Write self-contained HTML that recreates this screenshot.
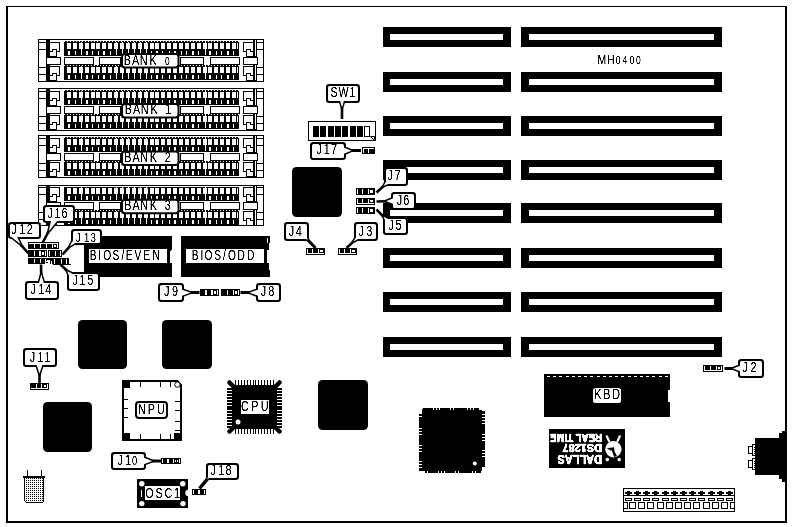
<!DOCTYPE html>
<html><head><meta charset="utf-8"><title>MH0400</title>
<style>
html,body{margin:0;padding:0;background:#fff;}
body{width:792px;height:527px;overflow:hidden;}
svg{display:block;}
text{font-family:"Liberation Sans",sans-serif;}
</style></head>
<body>
<svg width="792" height="527" viewBox="0 0 792 527" shape-rendering="crispEdges">
<defs><filter id="th" filterUnits="userSpaceOnUse" x="0" y="0" width="792" height="527" color-interpolation-filters="sRGB"><feComponentTransfer><feFuncA type="linear" slope="2.2" intercept="-0.45"/></feComponentTransfer></filter></defs>
<rect x="0" y="0" width="792" height="527" fill="#fff"/>
<rect x="6" y="6" width="781" height="1" fill="#000"/>
<rect x="6" y="6" width="2" height="517" fill="#000"/>
<rect x="785" y="6" width="2" height="517" fill="#000"/>
<rect x="6" y="521" width="781" height="2" fill="#000"/>
<rect x="383" y="27" width="128" height="20" fill="#000"/>
<rect x="390" y="34" width="113" height="6" fill="#fff"/>
<rect x="521" y="27" width="201" height="20" fill="#000"/>
<rect x="529" y="34" width="185" height="6" fill="#fff"/>
<rect x="383" y="72" width="128" height="20" fill="#000"/>
<rect x="390" y="79" width="113" height="6" fill="#fff"/>
<rect x="521" y="72" width="201" height="20" fill="#000"/>
<rect x="529" y="79" width="185" height="6" fill="#fff"/>
<rect x="383" y="116" width="128" height="20" fill="#000"/>
<rect x="390" y="123" width="113" height="6" fill="#fff"/>
<rect x="521" y="116" width="201" height="20" fill="#000"/>
<rect x="529" y="123" width="185" height="6" fill="#fff"/>
<rect x="383" y="160" width="128" height="20" fill="#000"/>
<rect x="390" y="167" width="113" height="6" fill="#fff"/>
<rect x="521" y="160" width="201" height="20" fill="#000"/>
<rect x="529" y="167" width="185" height="6" fill="#fff"/>
<rect x="383" y="203" width="128" height="20" fill="#000"/>
<rect x="390" y="210" width="113" height="6" fill="#fff"/>
<rect x="521" y="203" width="201" height="20" fill="#000"/>
<rect x="529" y="210" width="185" height="6" fill="#fff"/>
<rect x="383" y="248" width="128" height="20" fill="#000"/>
<rect x="390" y="255" width="113" height="6" fill="#fff"/>
<rect x="521" y="248" width="201" height="20" fill="#000"/>
<rect x="529" y="255" width="185" height="6" fill="#fff"/>
<rect x="383" y="292" width="128" height="20" fill="#000"/>
<rect x="390" y="299" width="113" height="6" fill="#fff"/>
<rect x="521" y="292" width="201" height="20" fill="#000"/>
<rect x="529" y="299" width="185" height="6" fill="#fff"/>
<rect x="383" y="337" width="128" height="20" fill="#000"/>
<rect x="390" y="344" width="113" height="6" fill="#fff"/>
<rect x="521" y="337" width="201" height="20" fill="#000"/>
<rect x="529" y="344" width="185" height="6" fill="#fff"/>
<rect x="38" y="39" width="226" height="1" fill="#000"/>
<rect x="38" y="81" width="226" height="1" fill="#000"/>
<rect x="38" y="39" width="1" height="43" fill="#000"/>
<rect x="263" y="39" width="1" height="43" fill="#000"/>
<rect x="39" y="42" width="7" height="1" fill="#000"/>
<rect x="257" y="42" width="6" height="1" fill="#000"/>
<rect x="39" y="49" width="7" height="1" fill="#000"/>
<rect x="257" y="49" width="6" height="1" fill="#000"/>
<rect x="39" y="67" width="7" height="1" fill="#000"/>
<rect x="257" y="67" width="6" height="1" fill="#000"/>
<rect x="39" y="74" width="7" height="1" fill="#000"/>
<rect x="257" y="74" width="6" height="1" fill="#000"/>
<rect x="46" y="39" width="4" height="18" fill="#000"/>
<rect x="46" y="65" width="4" height="16" fill="#000"/>
<rect x="253" y="39" width="2" height="18" fill="#000"/>
<rect x="253" y="65" width="2" height="16" fill="#000"/>
<rect x="256" y="39" width="1" height="42" fill="#000"/>
<rect x="46" y="57" width="15" height="8" fill="#000"/>
<rect x="47" y="58" width="13" height="6" fill="#fff"/>
<rect x="243" y="57" width="15" height="8" fill="#000"/>
<rect x="244" y="58" width="13" height="6" fill="#fff"/>
<rect x="50" y="42" width="10" height="1" fill="#000"/>
<rect x="59" y="42" width="1" height="10" fill="#000"/>
<rect x="52" y="49" width="5" height="1" fill="#000"/>
<rect x="52" y="49" width="1" height="3" fill="#000"/>
<rect x="56" y="49" width="1" height="8" fill="#000"/>
<rect x="50" y="51" width="3" height="1" fill="#000"/>
<rect x="57" y="51" width="3" height="1" fill="#000"/>
<rect x="46" y="56" width="11" height="1" fill="#000"/>
<rect x="50" y="66" width="10" height="1" fill="#000"/>
<rect x="59" y="66" width="1" height="10" fill="#000"/>
<rect x="52" y="73" width="5" height="1" fill="#000"/>
<rect x="52" y="73" width="1" height="3" fill="#000"/>
<rect x="56" y="73" width="1" height="8" fill="#000"/>
<rect x="50" y="75" width="3" height="1" fill="#000"/>
<rect x="57" y="75" width="3" height="1" fill="#000"/>
<rect x="46" y="80" width="11" height="1" fill="#000"/>
<rect x="243" y="42" width="10" height="1" fill="#000"/>
<rect x="243" y="42" width="1" height="10" fill="#000"/>
<rect x="246" y="49" width="5" height="1" fill="#000"/>
<rect x="250" y="49" width="1" height="3" fill="#000"/>
<rect x="246" y="49" width="1" height="8" fill="#000"/>
<rect x="250" y="51" width="3" height="1" fill="#000"/>
<rect x="243" y="51" width="3" height="1" fill="#000"/>
<rect x="246" y="56" width="11" height="1" fill="#000"/>
<rect x="243" y="66" width="10" height="1" fill="#000"/>
<rect x="243" y="66" width="1" height="10" fill="#000"/>
<rect x="246" y="73" width="5" height="1" fill="#000"/>
<rect x="250" y="73" width="1" height="3" fill="#000"/>
<rect x="246" y="73" width="1" height="8" fill="#000"/>
<rect x="250" y="75" width="3" height="1" fill="#000"/>
<rect x="243" y="75" width="3" height="1" fill="#000"/>
<rect x="246" y="80" width="11" height="1" fill="#000"/>
<rect x="64" y="42" width="175" height="14" fill="#000"/>
<rect x="65" y="41" width="2" height="1" fill="#000"/>
<rect x="68" y="41" width="2" height="1" fill="#000"/>
<rect x="71" y="41" width="2" height="1" fill="#000"/>
<rect x="74" y="41" width="2" height="1" fill="#000"/>
<rect x="77" y="41" width="2" height="1" fill="#000"/>
<rect x="80" y="41" width="2" height="1" fill="#000"/>
<rect x="83" y="41" width="2" height="1" fill="#000"/>
<rect x="86" y="41" width="2" height="1" fill="#000"/>
<rect x="89" y="41" width="2" height="1" fill="#000"/>
<rect x="92" y="41" width="2" height="1" fill="#000"/>
<rect x="95" y="41" width="2" height="1" fill="#000"/>
<rect x="98" y="41" width="2" height="1" fill="#000"/>
<rect x="101" y="41" width="2" height="1" fill="#000"/>
<rect x="104" y="41" width="2" height="1" fill="#000"/>
<rect x="107" y="41" width="2" height="1" fill="#000"/>
<rect x="110" y="41" width="2" height="1" fill="#000"/>
<rect x="113" y="41" width="2" height="1" fill="#000"/>
<rect x="116" y="41" width="2" height="1" fill="#000"/>
<rect x="119" y="41" width="2" height="1" fill="#000"/>
<rect x="122" y="41" width="2" height="1" fill="#000"/>
<rect x="125" y="41" width="2" height="1" fill="#000"/>
<rect x="128" y="41" width="2" height="1" fill="#000"/>
<rect x="131" y="41" width="2" height="1" fill="#000"/>
<rect x="134" y="41" width="2" height="1" fill="#000"/>
<rect x="137" y="41" width="2" height="1" fill="#000"/>
<rect x="140" y="41" width="2" height="1" fill="#000"/>
<rect x="143" y="41" width="2" height="1" fill="#000"/>
<rect x="146" y="41" width="2" height="1" fill="#000"/>
<rect x="149" y="41" width="2" height="1" fill="#000"/>
<rect x="152" y="41" width="2" height="1" fill="#000"/>
<rect x="155" y="41" width="2" height="1" fill="#000"/>
<rect x="158" y="41" width="2" height="1" fill="#000"/>
<rect x="161" y="41" width="2" height="1" fill="#000"/>
<rect x="164" y="41" width="2" height="1" fill="#000"/>
<rect x="167" y="41" width="2" height="1" fill="#000"/>
<rect x="170" y="41" width="2" height="1" fill="#000"/>
<rect x="173" y="41" width="2" height="1" fill="#000"/>
<rect x="176" y="41" width="2" height="1" fill="#000"/>
<rect x="179" y="41" width="2" height="1" fill="#000"/>
<rect x="182" y="41" width="2" height="1" fill="#000"/>
<rect x="185" y="41" width="2" height="1" fill="#000"/>
<rect x="188" y="41" width="2" height="1" fill="#000"/>
<rect x="191" y="41" width="2" height="1" fill="#000"/>
<rect x="194" y="41" width="2" height="1" fill="#000"/>
<rect x="197" y="41" width="2" height="1" fill="#000"/>
<rect x="200" y="41" width="2" height="1" fill="#000"/>
<rect x="203" y="41" width="2" height="1" fill="#000"/>
<rect x="206" y="41" width="2" height="1" fill="#000"/>
<rect x="209" y="41" width="2" height="1" fill="#000"/>
<rect x="212" y="41" width="2" height="1" fill="#000"/>
<rect x="215" y="41" width="2" height="1" fill="#000"/>
<rect x="218" y="41" width="2" height="1" fill="#000"/>
<rect x="221" y="41" width="2" height="1" fill="#000"/>
<rect x="224" y="41" width="2" height="1" fill="#000"/>
<rect x="227" y="41" width="2" height="1" fill="#000"/>
<rect x="230" y="41" width="2" height="1" fill="#000"/>
<rect x="233" y="41" width="2" height="1" fill="#000"/>
<rect x="236" y="41" width="2" height="1" fill="#000"/>
<rect x="64" y="66" width="175" height="14" fill="#000"/>
<rect x="65" y="65" width="2" height="1" fill="#000"/>
<rect x="68" y="65" width="2" height="1" fill="#000"/>
<rect x="71" y="65" width="2" height="1" fill="#000"/>
<rect x="74" y="65" width="2" height="1" fill="#000"/>
<rect x="77" y="65" width="2" height="1" fill="#000"/>
<rect x="80" y="65" width="2" height="1" fill="#000"/>
<rect x="83" y="65" width="2" height="1" fill="#000"/>
<rect x="86" y="65" width="2" height="1" fill="#000"/>
<rect x="89" y="65" width="2" height="1" fill="#000"/>
<rect x="92" y="65" width="2" height="1" fill="#000"/>
<rect x="95" y="65" width="2" height="1" fill="#000"/>
<rect x="98" y="65" width="2" height="1" fill="#000"/>
<rect x="101" y="65" width="2" height="1" fill="#000"/>
<rect x="104" y="65" width="2" height="1" fill="#000"/>
<rect x="107" y="65" width="2" height="1" fill="#000"/>
<rect x="110" y="65" width="2" height="1" fill="#000"/>
<rect x="113" y="65" width="2" height="1" fill="#000"/>
<rect x="116" y="65" width="2" height="1" fill="#000"/>
<rect x="119" y="65" width="2" height="1" fill="#000"/>
<rect x="122" y="65" width="2" height="1" fill="#000"/>
<rect x="125" y="65" width="2" height="1" fill="#000"/>
<rect x="128" y="65" width="2" height="1" fill="#000"/>
<rect x="131" y="65" width="2" height="1" fill="#000"/>
<rect x="134" y="65" width="2" height="1" fill="#000"/>
<rect x="137" y="65" width="2" height="1" fill="#000"/>
<rect x="140" y="65" width="2" height="1" fill="#000"/>
<rect x="143" y="65" width="2" height="1" fill="#000"/>
<rect x="146" y="65" width="2" height="1" fill="#000"/>
<rect x="149" y="65" width="2" height="1" fill="#000"/>
<rect x="152" y="65" width="2" height="1" fill="#000"/>
<rect x="155" y="65" width="2" height="1" fill="#000"/>
<rect x="158" y="65" width="2" height="1" fill="#000"/>
<rect x="161" y="65" width="2" height="1" fill="#000"/>
<rect x="164" y="65" width="2" height="1" fill="#000"/>
<rect x="167" y="65" width="2" height="1" fill="#000"/>
<rect x="170" y="65" width="2" height="1" fill="#000"/>
<rect x="173" y="65" width="2" height="1" fill="#000"/>
<rect x="176" y="65" width="2" height="1" fill="#000"/>
<rect x="179" y="65" width="2" height="1" fill="#000"/>
<rect x="182" y="65" width="2" height="1" fill="#000"/>
<rect x="185" y="65" width="2" height="1" fill="#000"/>
<rect x="188" y="65" width="2" height="1" fill="#000"/>
<rect x="191" y="65" width="2" height="1" fill="#000"/>
<rect x="194" y="65" width="2" height="1" fill="#000"/>
<rect x="197" y="65" width="2" height="1" fill="#000"/>
<rect x="200" y="65" width="2" height="1" fill="#000"/>
<rect x="203" y="65" width="2" height="1" fill="#000"/>
<rect x="206" y="65" width="2" height="1" fill="#000"/>
<rect x="209" y="65" width="2" height="1" fill="#000"/>
<rect x="212" y="65" width="2" height="1" fill="#000"/>
<rect x="215" y="65" width="2" height="1" fill="#000"/>
<rect x="218" y="65" width="2" height="1" fill="#000"/>
<rect x="221" y="65" width="2" height="1" fill="#000"/>
<rect x="224" y="65" width="2" height="1" fill="#000"/>
<rect x="227" y="65" width="2" height="1" fill="#000"/>
<rect x="230" y="65" width="2" height="1" fill="#000"/>
<rect x="233" y="65" width="2" height="1" fill="#000"/>
<rect x="236" y="65" width="2" height="1" fill="#000"/>
<rect x="67" y="43" width="4" height="6" fill="#fff"/>
<rect x="68" y="51" width="2" height="4" fill="#fff"/>
<rect x="67" y="67" width="4" height="6" fill="#fff"/>
<rect x="68" y="75" width="2" height="4" fill="#fff"/>
<rect x="73" y="43" width="4" height="6" fill="#fff"/>
<rect x="75" y="51" width="1" height="4" fill="#fff"/>
<rect x="73" y="67" width="4" height="6" fill="#fff"/>
<rect x="75" y="75" width="1" height="4" fill="#fff"/>
<rect x="79" y="43" width="4" height="6" fill="#fff"/>
<rect x="81" y="42" width="1" height="13" fill="#fff"/>
<rect x="79" y="67" width="4" height="6" fill="#fff"/>
<rect x="81" y="66" width="1" height="13" fill="#fff"/>
<rect x="85" y="43" width="4" height="6" fill="#fff"/>
<rect x="86" y="51" width="2" height="4" fill="#fff"/>
<rect x="85" y="67" width="4" height="6" fill="#fff"/>
<rect x="86" y="75" width="2" height="4" fill="#fff"/>
<rect x="91" y="43" width="4" height="6" fill="#fff"/>
<rect x="92" y="51" width="1" height="4" fill="#fff"/>
<rect x="91" y="67" width="4" height="6" fill="#fff"/>
<rect x="92" y="75" width="1" height="4" fill="#fff"/>
<rect x="96" y="43" width="4" height="6" fill="#fff"/>
<rect x="98" y="51" width="1" height="4" fill="#fff"/>
<rect x="96" y="67" width="4" height="6" fill="#fff"/>
<rect x="98" y="75" width="1" height="4" fill="#fff"/>
<rect x="102" y="43" width="4" height="6" fill="#fff"/>
<rect x="103" y="51" width="2" height="4" fill="#fff"/>
<rect x="102" y="67" width="4" height="6" fill="#fff"/>
<rect x="103" y="75" width="2" height="4" fill="#fff"/>
<rect x="108" y="43" width="4" height="6" fill="#fff"/>
<rect x="110" y="51" width="1" height="4" fill="#fff"/>
<rect x="108" y="67" width="4" height="6" fill="#fff"/>
<rect x="110" y="75" width="1" height="4" fill="#fff"/>
<rect x="114" y="43" width="4" height="6" fill="#fff"/>
<rect x="116" y="42" width="1" height="13" fill="#fff"/>
<rect x="114" y="67" width="4" height="6" fill="#fff"/>
<rect x="116" y="66" width="1" height="13" fill="#fff"/>
<rect x="120" y="43" width="4" height="6" fill="#fff"/>
<rect x="122" y="42" width="1" height="13" fill="#fff"/>
<rect x="120" y="67" width="4" height="6" fill="#fff"/>
<rect x="122" y="66" width="1" height="13" fill="#fff"/>
<rect x="126" y="43" width="4" height="6" fill="#fff"/>
<rect x="128" y="42" width="1" height="13" fill="#fff"/>
<rect x="126" y="67" width="4" height="6" fill="#fff"/>
<rect x="128" y="66" width="1" height="13" fill="#fff"/>
<rect x="132" y="43" width="4" height="6" fill="#fff"/>
<rect x="134" y="42" width="1" height="13" fill="#fff"/>
<rect x="132" y="67" width="4" height="6" fill="#fff"/>
<rect x="134" y="66" width="1" height="13" fill="#fff"/>
<rect x="138" y="43" width="4" height="6" fill="#fff"/>
<rect x="140" y="42" width="1" height="13" fill="#fff"/>
<rect x="138" y="67" width="4" height="6" fill="#fff"/>
<rect x="140" y="66" width="1" height="13" fill="#fff"/>
<rect x="144" y="43" width="4" height="6" fill="#fff"/>
<rect x="146" y="42" width="1" height="13" fill="#fff"/>
<rect x="144" y="67" width="4" height="6" fill="#fff"/>
<rect x="146" y="66" width="1" height="13" fill="#fff"/>
<rect x="150" y="43" width="4" height="6" fill="#fff"/>
<rect x="151" y="51" width="1" height="4" fill="#fff"/>
<rect x="150" y="67" width="4" height="6" fill="#fff"/>
<rect x="151" y="75" width="1" height="4" fill="#fff"/>
<rect x="155" y="43" width="4" height="6" fill="#fff"/>
<rect x="156" y="51" width="2" height="4" fill="#fff"/>
<rect x="155" y="67" width="4" height="6" fill="#fff"/>
<rect x="156" y="75" width="2" height="4" fill="#fff"/>
<rect x="161" y="43" width="4" height="6" fill="#fff"/>
<rect x="162" y="51" width="1" height="4" fill="#fff"/>
<rect x="161" y="67" width="4" height="6" fill="#fff"/>
<rect x="162" y="75" width="1" height="4" fill="#fff"/>
<rect x="167" y="43" width="4" height="6" fill="#fff"/>
<rect x="169" y="51" width="1" height="4" fill="#fff"/>
<rect x="167" y="67" width="4" height="6" fill="#fff"/>
<rect x="169" y="75" width="1" height="4" fill="#fff"/>
<rect x="173" y="43" width="4" height="6" fill="#fff"/>
<rect x="174" y="51" width="2" height="4" fill="#fff"/>
<rect x="173" y="67" width="4" height="6" fill="#fff"/>
<rect x="174" y="75" width="2" height="4" fill="#fff"/>
<rect x="179" y="43" width="4" height="6" fill="#fff"/>
<rect x="181" y="51" width="1" height="4" fill="#fff"/>
<rect x="179" y="67" width="4" height="6" fill="#fff"/>
<rect x="181" y="75" width="1" height="4" fill="#fff"/>
<rect x="185" y="43" width="4" height="6" fill="#fff"/>
<rect x="186" y="51" width="1" height="4" fill="#fff"/>
<rect x="185" y="67" width="4" height="6" fill="#fff"/>
<rect x="186" y="75" width="1" height="4" fill="#fff"/>
<rect x="191" y="43" width="4" height="6" fill="#fff"/>
<rect x="192" y="51" width="2" height="4" fill="#fff"/>
<rect x="191" y="67" width="4" height="6" fill="#fff"/>
<rect x="192" y="75" width="2" height="4" fill="#fff"/>
<rect x="197" y="43" width="4" height="6" fill="#fff"/>
<rect x="198" y="51" width="1" height="4" fill="#fff"/>
<rect x="197" y="67" width="4" height="6" fill="#fff"/>
<rect x="198" y="75" width="1" height="4" fill="#fff"/>
<rect x="203" y="43" width="4" height="6" fill="#fff"/>
<rect x="205" y="42" width="1" height="13" fill="#fff"/>
<rect x="203" y="67" width="4" height="6" fill="#fff"/>
<rect x="205" y="66" width="1" height="13" fill="#fff"/>
<rect x="208" y="43" width="4" height="6" fill="#fff"/>
<rect x="209" y="51" width="2" height="4" fill="#fff"/>
<rect x="208" y="67" width="4" height="6" fill="#fff"/>
<rect x="209" y="75" width="2" height="4" fill="#fff"/>
<rect x="214" y="43" width="4" height="6" fill="#fff"/>
<rect x="216" y="51" width="1" height="4" fill="#fff"/>
<rect x="214" y="67" width="4" height="6" fill="#fff"/>
<rect x="216" y="75" width="1" height="4" fill="#fff"/>
<rect x="220" y="43" width="4" height="6" fill="#fff"/>
<rect x="221" y="51" width="1" height="4" fill="#fff"/>
<rect x="220" y="67" width="4" height="6" fill="#fff"/>
<rect x="221" y="75" width="1" height="4" fill="#fff"/>
<rect x="226" y="43" width="4" height="6" fill="#fff"/>
<rect x="227" y="51" width="2" height="4" fill="#fff"/>
<rect x="226" y="67" width="4" height="6" fill="#fff"/>
<rect x="227" y="75" width="2" height="4" fill="#fff"/>
<rect x="232" y="43" width="4" height="6" fill="#fff"/>
<rect x="233" y="51" width="1" height="4" fill="#fff"/>
<rect x="232" y="67" width="4" height="6" fill="#fff"/>
<rect x="233" y="75" width="1" height="4" fill="#fff"/>
<rect x="237" y="43" width="1" height="6" fill="#fff"/>
<rect x="237" y="67" width="1" height="6" fill="#fff"/>
<rect x="64" y="57" width="30" height="8" fill="#000"/>
<rect x="65" y="58" width="28" height="6" fill="#fff"/>
<rect x="99" y="57" width="22" height="8" fill="#000"/>
<rect x="100" y="58" width="20" height="6" fill="#fff"/>
<rect x="180" y="57" width="24" height="8" fill="#000"/>
<rect x="181" y="58" width="22" height="6" fill="#fff"/>
<rect x="210" y="57" width="30" height="8" fill="#000"/>
<rect x="211" y="58" width="28" height="6" fill="#fff"/>
<rect x="121" y="53" width="58.5" height="15.4" rx="3.5" fill="#000" shape-rendering="geometricPrecision"/>
<rect x="123" y="55" width="54.5" height="11.4" rx="1.8" fill="#fff" shape-rendering="geometricPrecision"/>
<rect x="38" y="88" width="226" height="1" fill="#000"/>
<rect x="38" y="130" width="226" height="1" fill="#000"/>
<rect x="38" y="88" width="1" height="43" fill="#000"/>
<rect x="263" y="88" width="1" height="43" fill="#000"/>
<rect x="39" y="91" width="7" height="1" fill="#000"/>
<rect x="257" y="91" width="6" height="1" fill="#000"/>
<rect x="39" y="98" width="7" height="1" fill="#000"/>
<rect x="257" y="98" width="6" height="1" fill="#000"/>
<rect x="39" y="116" width="7" height="1" fill="#000"/>
<rect x="257" y="116" width="6" height="1" fill="#000"/>
<rect x="39" y="123" width="7" height="1" fill="#000"/>
<rect x="257" y="123" width="6" height="1" fill="#000"/>
<rect x="46" y="88" width="4" height="18" fill="#000"/>
<rect x="46" y="114" width="4" height="16" fill="#000"/>
<rect x="253" y="88" width="2" height="18" fill="#000"/>
<rect x="253" y="114" width="2" height="16" fill="#000"/>
<rect x="256" y="88" width="1" height="42" fill="#000"/>
<rect x="46" y="106" width="15" height="8" fill="#000"/>
<rect x="47" y="107" width="13" height="6" fill="#fff"/>
<rect x="243" y="106" width="15" height="8" fill="#000"/>
<rect x="244" y="107" width="13" height="6" fill="#fff"/>
<rect x="50" y="91" width="10" height="1" fill="#000"/>
<rect x="59" y="91" width="1" height="10" fill="#000"/>
<rect x="52" y="98" width="5" height="1" fill="#000"/>
<rect x="52" y="98" width="1" height="3" fill="#000"/>
<rect x="56" y="98" width="1" height="8" fill="#000"/>
<rect x="50" y="100" width="3" height="1" fill="#000"/>
<rect x="57" y="100" width="3" height="1" fill="#000"/>
<rect x="46" y="105" width="11" height="1" fill="#000"/>
<rect x="50" y="115" width="10" height="1" fill="#000"/>
<rect x="59" y="115" width="1" height="10" fill="#000"/>
<rect x="52" y="122" width="5" height="1" fill="#000"/>
<rect x="52" y="122" width="1" height="3" fill="#000"/>
<rect x="56" y="122" width="1" height="8" fill="#000"/>
<rect x="50" y="124" width="3" height="1" fill="#000"/>
<rect x="57" y="124" width="3" height="1" fill="#000"/>
<rect x="46" y="129" width="11" height="1" fill="#000"/>
<rect x="243" y="91" width="10" height="1" fill="#000"/>
<rect x="243" y="91" width="1" height="10" fill="#000"/>
<rect x="246" y="98" width="5" height="1" fill="#000"/>
<rect x="250" y="98" width="1" height="3" fill="#000"/>
<rect x="246" y="98" width="1" height="8" fill="#000"/>
<rect x="250" y="100" width="3" height="1" fill="#000"/>
<rect x="243" y="100" width="3" height="1" fill="#000"/>
<rect x="246" y="105" width="11" height="1" fill="#000"/>
<rect x="243" y="115" width="10" height="1" fill="#000"/>
<rect x="243" y="115" width="1" height="10" fill="#000"/>
<rect x="246" y="122" width="5" height="1" fill="#000"/>
<rect x="250" y="122" width="1" height="3" fill="#000"/>
<rect x="246" y="122" width="1" height="8" fill="#000"/>
<rect x="250" y="124" width="3" height="1" fill="#000"/>
<rect x="243" y="124" width="3" height="1" fill="#000"/>
<rect x="246" y="129" width="11" height="1" fill="#000"/>
<rect x="64" y="91" width="175" height="14" fill="#000"/>
<rect x="65" y="90" width="2" height="1" fill="#000"/>
<rect x="68" y="90" width="2" height="1" fill="#000"/>
<rect x="71" y="90" width="2" height="1" fill="#000"/>
<rect x="74" y="90" width="2" height="1" fill="#000"/>
<rect x="77" y="90" width="2" height="1" fill="#000"/>
<rect x="80" y="90" width="2" height="1" fill="#000"/>
<rect x="83" y="90" width="2" height="1" fill="#000"/>
<rect x="86" y="90" width="2" height="1" fill="#000"/>
<rect x="89" y="90" width="2" height="1" fill="#000"/>
<rect x="92" y="90" width="2" height="1" fill="#000"/>
<rect x="95" y="90" width="2" height="1" fill="#000"/>
<rect x="98" y="90" width="2" height="1" fill="#000"/>
<rect x="101" y="90" width="2" height="1" fill="#000"/>
<rect x="104" y="90" width="2" height="1" fill="#000"/>
<rect x="107" y="90" width="2" height="1" fill="#000"/>
<rect x="110" y="90" width="2" height="1" fill="#000"/>
<rect x="113" y="90" width="2" height="1" fill="#000"/>
<rect x="116" y="90" width="2" height="1" fill="#000"/>
<rect x="119" y="90" width="2" height="1" fill="#000"/>
<rect x="122" y="90" width="2" height="1" fill="#000"/>
<rect x="125" y="90" width="2" height="1" fill="#000"/>
<rect x="128" y="90" width="2" height="1" fill="#000"/>
<rect x="131" y="90" width="2" height="1" fill="#000"/>
<rect x="134" y="90" width="2" height="1" fill="#000"/>
<rect x="137" y="90" width="2" height="1" fill="#000"/>
<rect x="140" y="90" width="2" height="1" fill="#000"/>
<rect x="143" y="90" width="2" height="1" fill="#000"/>
<rect x="146" y="90" width="2" height="1" fill="#000"/>
<rect x="149" y="90" width="2" height="1" fill="#000"/>
<rect x="152" y="90" width="2" height="1" fill="#000"/>
<rect x="155" y="90" width="2" height="1" fill="#000"/>
<rect x="158" y="90" width="2" height="1" fill="#000"/>
<rect x="161" y="90" width="2" height="1" fill="#000"/>
<rect x="164" y="90" width="2" height="1" fill="#000"/>
<rect x="167" y="90" width="2" height="1" fill="#000"/>
<rect x="170" y="90" width="2" height="1" fill="#000"/>
<rect x="173" y="90" width="2" height="1" fill="#000"/>
<rect x="176" y="90" width="2" height="1" fill="#000"/>
<rect x="179" y="90" width="2" height="1" fill="#000"/>
<rect x="182" y="90" width="2" height="1" fill="#000"/>
<rect x="185" y="90" width="2" height="1" fill="#000"/>
<rect x="188" y="90" width="2" height="1" fill="#000"/>
<rect x="191" y="90" width="2" height="1" fill="#000"/>
<rect x="194" y="90" width="2" height="1" fill="#000"/>
<rect x="197" y="90" width="2" height="1" fill="#000"/>
<rect x="200" y="90" width="2" height="1" fill="#000"/>
<rect x="203" y="90" width="2" height="1" fill="#000"/>
<rect x="206" y="90" width="2" height="1" fill="#000"/>
<rect x="209" y="90" width="2" height="1" fill="#000"/>
<rect x="212" y="90" width="2" height="1" fill="#000"/>
<rect x="215" y="90" width="2" height="1" fill="#000"/>
<rect x="218" y="90" width="2" height="1" fill="#000"/>
<rect x="221" y="90" width="2" height="1" fill="#000"/>
<rect x="224" y="90" width="2" height="1" fill="#000"/>
<rect x="227" y="90" width="2" height="1" fill="#000"/>
<rect x="230" y="90" width="2" height="1" fill="#000"/>
<rect x="233" y="90" width="2" height="1" fill="#000"/>
<rect x="236" y="90" width="2" height="1" fill="#000"/>
<rect x="64" y="115" width="175" height="14" fill="#000"/>
<rect x="65" y="114" width="2" height="1" fill="#000"/>
<rect x="68" y="114" width="2" height="1" fill="#000"/>
<rect x="71" y="114" width="2" height="1" fill="#000"/>
<rect x="74" y="114" width="2" height="1" fill="#000"/>
<rect x="77" y="114" width="2" height="1" fill="#000"/>
<rect x="80" y="114" width="2" height="1" fill="#000"/>
<rect x="83" y="114" width="2" height="1" fill="#000"/>
<rect x="86" y="114" width="2" height="1" fill="#000"/>
<rect x="89" y="114" width="2" height="1" fill="#000"/>
<rect x="92" y="114" width="2" height="1" fill="#000"/>
<rect x="95" y="114" width="2" height="1" fill="#000"/>
<rect x="98" y="114" width="2" height="1" fill="#000"/>
<rect x="101" y="114" width="2" height="1" fill="#000"/>
<rect x="104" y="114" width="2" height="1" fill="#000"/>
<rect x="107" y="114" width="2" height="1" fill="#000"/>
<rect x="110" y="114" width="2" height="1" fill="#000"/>
<rect x="113" y="114" width="2" height="1" fill="#000"/>
<rect x="116" y="114" width="2" height="1" fill="#000"/>
<rect x="119" y="114" width="2" height="1" fill="#000"/>
<rect x="122" y="114" width="2" height="1" fill="#000"/>
<rect x="125" y="114" width="2" height="1" fill="#000"/>
<rect x="128" y="114" width="2" height="1" fill="#000"/>
<rect x="131" y="114" width="2" height="1" fill="#000"/>
<rect x="134" y="114" width="2" height="1" fill="#000"/>
<rect x="137" y="114" width="2" height="1" fill="#000"/>
<rect x="140" y="114" width="2" height="1" fill="#000"/>
<rect x="143" y="114" width="2" height="1" fill="#000"/>
<rect x="146" y="114" width="2" height="1" fill="#000"/>
<rect x="149" y="114" width="2" height="1" fill="#000"/>
<rect x="152" y="114" width="2" height="1" fill="#000"/>
<rect x="155" y="114" width="2" height="1" fill="#000"/>
<rect x="158" y="114" width="2" height="1" fill="#000"/>
<rect x="161" y="114" width="2" height="1" fill="#000"/>
<rect x="164" y="114" width="2" height="1" fill="#000"/>
<rect x="167" y="114" width="2" height="1" fill="#000"/>
<rect x="170" y="114" width="2" height="1" fill="#000"/>
<rect x="173" y="114" width="2" height="1" fill="#000"/>
<rect x="176" y="114" width="2" height="1" fill="#000"/>
<rect x="179" y="114" width="2" height="1" fill="#000"/>
<rect x="182" y="114" width="2" height="1" fill="#000"/>
<rect x="185" y="114" width="2" height="1" fill="#000"/>
<rect x="188" y="114" width="2" height="1" fill="#000"/>
<rect x="191" y="114" width="2" height="1" fill="#000"/>
<rect x="194" y="114" width="2" height="1" fill="#000"/>
<rect x="197" y="114" width="2" height="1" fill="#000"/>
<rect x="200" y="114" width="2" height="1" fill="#000"/>
<rect x="203" y="114" width="2" height="1" fill="#000"/>
<rect x="206" y="114" width="2" height="1" fill="#000"/>
<rect x="209" y="114" width="2" height="1" fill="#000"/>
<rect x="212" y="114" width="2" height="1" fill="#000"/>
<rect x="215" y="114" width="2" height="1" fill="#000"/>
<rect x="218" y="114" width="2" height="1" fill="#000"/>
<rect x="221" y="114" width="2" height="1" fill="#000"/>
<rect x="224" y="114" width="2" height="1" fill="#000"/>
<rect x="227" y="114" width="2" height="1" fill="#000"/>
<rect x="230" y="114" width="2" height="1" fill="#000"/>
<rect x="233" y="114" width="2" height="1" fill="#000"/>
<rect x="236" y="114" width="2" height="1" fill="#000"/>
<rect x="67" y="92" width="4" height="6" fill="#fff"/>
<rect x="68" y="100" width="2" height="4" fill="#fff"/>
<rect x="67" y="116" width="4" height="6" fill="#fff"/>
<rect x="68" y="124" width="2" height="4" fill="#fff"/>
<rect x="73" y="92" width="4" height="6" fill="#fff"/>
<rect x="75" y="100" width="1" height="4" fill="#fff"/>
<rect x="73" y="116" width="4" height="6" fill="#fff"/>
<rect x="75" y="124" width="1" height="4" fill="#fff"/>
<rect x="79" y="92" width="4" height="6" fill="#fff"/>
<rect x="81" y="91" width="1" height="13" fill="#fff"/>
<rect x="79" y="116" width="4" height="6" fill="#fff"/>
<rect x="81" y="115" width="1" height="13" fill="#fff"/>
<rect x="85" y="92" width="4" height="6" fill="#fff"/>
<rect x="86" y="100" width="2" height="4" fill="#fff"/>
<rect x="85" y="116" width="4" height="6" fill="#fff"/>
<rect x="86" y="124" width="2" height="4" fill="#fff"/>
<rect x="91" y="92" width="4" height="6" fill="#fff"/>
<rect x="92" y="100" width="1" height="4" fill="#fff"/>
<rect x="91" y="116" width="4" height="6" fill="#fff"/>
<rect x="92" y="124" width="1" height="4" fill="#fff"/>
<rect x="96" y="92" width="4" height="6" fill="#fff"/>
<rect x="98" y="100" width="1" height="4" fill="#fff"/>
<rect x="96" y="116" width="4" height="6" fill="#fff"/>
<rect x="98" y="124" width="1" height="4" fill="#fff"/>
<rect x="102" y="92" width="4" height="6" fill="#fff"/>
<rect x="103" y="100" width="2" height="4" fill="#fff"/>
<rect x="102" y="116" width="4" height="6" fill="#fff"/>
<rect x="103" y="124" width="2" height="4" fill="#fff"/>
<rect x="108" y="92" width="4" height="6" fill="#fff"/>
<rect x="110" y="100" width="1" height="4" fill="#fff"/>
<rect x="108" y="116" width="4" height="6" fill="#fff"/>
<rect x="110" y="124" width="1" height="4" fill="#fff"/>
<rect x="114" y="92" width="4" height="6" fill="#fff"/>
<rect x="116" y="91" width="1" height="13" fill="#fff"/>
<rect x="114" y="116" width="4" height="6" fill="#fff"/>
<rect x="116" y="115" width="1" height="13" fill="#fff"/>
<rect x="120" y="92" width="4" height="6" fill="#fff"/>
<rect x="122" y="91" width="1" height="13" fill="#fff"/>
<rect x="120" y="116" width="4" height="6" fill="#fff"/>
<rect x="122" y="115" width="1" height="13" fill="#fff"/>
<rect x="126" y="92" width="4" height="6" fill="#fff"/>
<rect x="128" y="91" width="1" height="13" fill="#fff"/>
<rect x="126" y="116" width="4" height="6" fill="#fff"/>
<rect x="128" y="115" width="1" height="13" fill="#fff"/>
<rect x="132" y="92" width="4" height="6" fill="#fff"/>
<rect x="134" y="91" width="1" height="13" fill="#fff"/>
<rect x="132" y="116" width="4" height="6" fill="#fff"/>
<rect x="134" y="115" width="1" height="13" fill="#fff"/>
<rect x="138" y="92" width="4" height="6" fill="#fff"/>
<rect x="140" y="91" width="1" height="13" fill="#fff"/>
<rect x="138" y="116" width="4" height="6" fill="#fff"/>
<rect x="140" y="115" width="1" height="13" fill="#fff"/>
<rect x="144" y="92" width="4" height="6" fill="#fff"/>
<rect x="146" y="91" width="1" height="13" fill="#fff"/>
<rect x="144" y="116" width="4" height="6" fill="#fff"/>
<rect x="146" y="115" width="1" height="13" fill="#fff"/>
<rect x="150" y="92" width="4" height="6" fill="#fff"/>
<rect x="151" y="100" width="1" height="4" fill="#fff"/>
<rect x="150" y="116" width="4" height="6" fill="#fff"/>
<rect x="151" y="124" width="1" height="4" fill="#fff"/>
<rect x="155" y="92" width="4" height="6" fill="#fff"/>
<rect x="156" y="100" width="2" height="4" fill="#fff"/>
<rect x="155" y="116" width="4" height="6" fill="#fff"/>
<rect x="156" y="124" width="2" height="4" fill="#fff"/>
<rect x="161" y="92" width="4" height="6" fill="#fff"/>
<rect x="162" y="100" width="1" height="4" fill="#fff"/>
<rect x="161" y="116" width="4" height="6" fill="#fff"/>
<rect x="162" y="124" width="1" height="4" fill="#fff"/>
<rect x="167" y="92" width="4" height="6" fill="#fff"/>
<rect x="169" y="100" width="1" height="4" fill="#fff"/>
<rect x="167" y="116" width="4" height="6" fill="#fff"/>
<rect x="169" y="124" width="1" height="4" fill="#fff"/>
<rect x="173" y="92" width="4" height="6" fill="#fff"/>
<rect x="174" y="100" width="2" height="4" fill="#fff"/>
<rect x="173" y="116" width="4" height="6" fill="#fff"/>
<rect x="174" y="124" width="2" height="4" fill="#fff"/>
<rect x="179" y="92" width="4" height="6" fill="#fff"/>
<rect x="181" y="100" width="1" height="4" fill="#fff"/>
<rect x="179" y="116" width="4" height="6" fill="#fff"/>
<rect x="181" y="124" width="1" height="4" fill="#fff"/>
<rect x="185" y="92" width="4" height="6" fill="#fff"/>
<rect x="186" y="100" width="1" height="4" fill="#fff"/>
<rect x="185" y="116" width="4" height="6" fill="#fff"/>
<rect x="186" y="124" width="1" height="4" fill="#fff"/>
<rect x="191" y="92" width="4" height="6" fill="#fff"/>
<rect x="192" y="100" width="2" height="4" fill="#fff"/>
<rect x="191" y="116" width="4" height="6" fill="#fff"/>
<rect x="192" y="124" width="2" height="4" fill="#fff"/>
<rect x="197" y="92" width="4" height="6" fill="#fff"/>
<rect x="198" y="100" width="1" height="4" fill="#fff"/>
<rect x="197" y="116" width="4" height="6" fill="#fff"/>
<rect x="198" y="124" width="1" height="4" fill="#fff"/>
<rect x="203" y="92" width="4" height="6" fill="#fff"/>
<rect x="205" y="91" width="1" height="13" fill="#fff"/>
<rect x="203" y="116" width="4" height="6" fill="#fff"/>
<rect x="205" y="115" width="1" height="13" fill="#fff"/>
<rect x="208" y="92" width="4" height="6" fill="#fff"/>
<rect x="209" y="100" width="2" height="4" fill="#fff"/>
<rect x="208" y="116" width="4" height="6" fill="#fff"/>
<rect x="209" y="124" width="2" height="4" fill="#fff"/>
<rect x="214" y="92" width="4" height="6" fill="#fff"/>
<rect x="216" y="100" width="1" height="4" fill="#fff"/>
<rect x="214" y="116" width="4" height="6" fill="#fff"/>
<rect x="216" y="124" width="1" height="4" fill="#fff"/>
<rect x="220" y="92" width="4" height="6" fill="#fff"/>
<rect x="221" y="100" width="1" height="4" fill="#fff"/>
<rect x="220" y="116" width="4" height="6" fill="#fff"/>
<rect x="221" y="124" width="1" height="4" fill="#fff"/>
<rect x="226" y="92" width="4" height="6" fill="#fff"/>
<rect x="227" y="100" width="2" height="4" fill="#fff"/>
<rect x="226" y="116" width="4" height="6" fill="#fff"/>
<rect x="227" y="124" width="2" height="4" fill="#fff"/>
<rect x="232" y="92" width="4" height="6" fill="#fff"/>
<rect x="233" y="100" width="1" height="4" fill="#fff"/>
<rect x="232" y="116" width="4" height="6" fill="#fff"/>
<rect x="233" y="124" width="1" height="4" fill="#fff"/>
<rect x="237" y="92" width="1" height="6" fill="#fff"/>
<rect x="237" y="116" width="1" height="6" fill="#fff"/>
<rect x="64" y="106" width="30" height="8" fill="#000"/>
<rect x="65" y="107" width="28" height="6" fill="#fff"/>
<rect x="99" y="106" width="22" height="8" fill="#000"/>
<rect x="100" y="107" width="20" height="6" fill="#fff"/>
<rect x="180" y="106" width="24" height="8" fill="#000"/>
<rect x="181" y="107" width="22" height="6" fill="#fff"/>
<rect x="210" y="106" width="30" height="8" fill="#000"/>
<rect x="211" y="107" width="28" height="6" fill="#fff"/>
<rect x="121" y="103" width="58.5" height="15.4" rx="3.5" fill="#000" shape-rendering="geometricPrecision"/>
<rect x="123" y="105" width="54.5" height="11.4" rx="1.8" fill="#fff" shape-rendering="geometricPrecision"/>
<rect x="38" y="135" width="226" height="1" fill="#000"/>
<rect x="38" y="177" width="226" height="1" fill="#000"/>
<rect x="38" y="135" width="1" height="43" fill="#000"/>
<rect x="263" y="135" width="1" height="43" fill="#000"/>
<rect x="39" y="138" width="7" height="1" fill="#000"/>
<rect x="257" y="138" width="6" height="1" fill="#000"/>
<rect x="39" y="145" width="7" height="1" fill="#000"/>
<rect x="257" y="145" width="6" height="1" fill="#000"/>
<rect x="39" y="163" width="7" height="1" fill="#000"/>
<rect x="257" y="163" width="6" height="1" fill="#000"/>
<rect x="39" y="170" width="7" height="1" fill="#000"/>
<rect x="257" y="170" width="6" height="1" fill="#000"/>
<rect x="46" y="135" width="4" height="18" fill="#000"/>
<rect x="46" y="161" width="4" height="16" fill="#000"/>
<rect x="253" y="135" width="2" height="18" fill="#000"/>
<rect x="253" y="161" width="2" height="16" fill="#000"/>
<rect x="256" y="135" width="1" height="42" fill="#000"/>
<rect x="46" y="153" width="15" height="8" fill="#000"/>
<rect x="47" y="154" width="13" height="6" fill="#fff"/>
<rect x="243" y="153" width="15" height="8" fill="#000"/>
<rect x="244" y="154" width="13" height="6" fill="#fff"/>
<rect x="50" y="138" width="10" height="1" fill="#000"/>
<rect x="59" y="138" width="1" height="10" fill="#000"/>
<rect x="52" y="145" width="5" height="1" fill="#000"/>
<rect x="52" y="145" width="1" height="3" fill="#000"/>
<rect x="56" y="145" width="1" height="8" fill="#000"/>
<rect x="50" y="147" width="3" height="1" fill="#000"/>
<rect x="57" y="147" width="3" height="1" fill="#000"/>
<rect x="46" y="152" width="11" height="1" fill="#000"/>
<rect x="50" y="162" width="10" height="1" fill="#000"/>
<rect x="59" y="162" width="1" height="10" fill="#000"/>
<rect x="52" y="169" width="5" height="1" fill="#000"/>
<rect x="52" y="169" width="1" height="3" fill="#000"/>
<rect x="56" y="169" width="1" height="8" fill="#000"/>
<rect x="50" y="171" width="3" height="1" fill="#000"/>
<rect x="57" y="171" width="3" height="1" fill="#000"/>
<rect x="46" y="176" width="11" height="1" fill="#000"/>
<rect x="243" y="138" width="10" height="1" fill="#000"/>
<rect x="243" y="138" width="1" height="10" fill="#000"/>
<rect x="246" y="145" width="5" height="1" fill="#000"/>
<rect x="250" y="145" width="1" height="3" fill="#000"/>
<rect x="246" y="145" width="1" height="8" fill="#000"/>
<rect x="250" y="147" width="3" height="1" fill="#000"/>
<rect x="243" y="147" width="3" height="1" fill="#000"/>
<rect x="246" y="152" width="11" height="1" fill="#000"/>
<rect x="243" y="162" width="10" height="1" fill="#000"/>
<rect x="243" y="162" width="1" height="10" fill="#000"/>
<rect x="246" y="169" width="5" height="1" fill="#000"/>
<rect x="250" y="169" width="1" height="3" fill="#000"/>
<rect x="246" y="169" width="1" height="8" fill="#000"/>
<rect x="250" y="171" width="3" height="1" fill="#000"/>
<rect x="243" y="171" width="3" height="1" fill="#000"/>
<rect x="246" y="176" width="11" height="1" fill="#000"/>
<rect x="64" y="138" width="175" height="14" fill="#000"/>
<rect x="65" y="137" width="2" height="1" fill="#000"/>
<rect x="68" y="137" width="2" height="1" fill="#000"/>
<rect x="71" y="137" width="2" height="1" fill="#000"/>
<rect x="74" y="137" width="2" height="1" fill="#000"/>
<rect x="77" y="137" width="2" height="1" fill="#000"/>
<rect x="80" y="137" width="2" height="1" fill="#000"/>
<rect x="83" y="137" width="2" height="1" fill="#000"/>
<rect x="86" y="137" width="2" height="1" fill="#000"/>
<rect x="89" y="137" width="2" height="1" fill="#000"/>
<rect x="92" y="137" width="2" height="1" fill="#000"/>
<rect x="95" y="137" width="2" height="1" fill="#000"/>
<rect x="98" y="137" width="2" height="1" fill="#000"/>
<rect x="101" y="137" width="2" height="1" fill="#000"/>
<rect x="104" y="137" width="2" height="1" fill="#000"/>
<rect x="107" y="137" width="2" height="1" fill="#000"/>
<rect x="110" y="137" width="2" height="1" fill="#000"/>
<rect x="113" y="137" width="2" height="1" fill="#000"/>
<rect x="116" y="137" width="2" height="1" fill="#000"/>
<rect x="119" y="137" width="2" height="1" fill="#000"/>
<rect x="122" y="137" width="2" height="1" fill="#000"/>
<rect x="125" y="137" width="2" height="1" fill="#000"/>
<rect x="128" y="137" width="2" height="1" fill="#000"/>
<rect x="131" y="137" width="2" height="1" fill="#000"/>
<rect x="134" y="137" width="2" height="1" fill="#000"/>
<rect x="137" y="137" width="2" height="1" fill="#000"/>
<rect x="140" y="137" width="2" height="1" fill="#000"/>
<rect x="143" y="137" width="2" height="1" fill="#000"/>
<rect x="146" y="137" width="2" height="1" fill="#000"/>
<rect x="149" y="137" width="2" height="1" fill="#000"/>
<rect x="152" y="137" width="2" height="1" fill="#000"/>
<rect x="155" y="137" width="2" height="1" fill="#000"/>
<rect x="158" y="137" width="2" height="1" fill="#000"/>
<rect x="161" y="137" width="2" height="1" fill="#000"/>
<rect x="164" y="137" width="2" height="1" fill="#000"/>
<rect x="167" y="137" width="2" height="1" fill="#000"/>
<rect x="170" y="137" width="2" height="1" fill="#000"/>
<rect x="173" y="137" width="2" height="1" fill="#000"/>
<rect x="176" y="137" width="2" height="1" fill="#000"/>
<rect x="179" y="137" width="2" height="1" fill="#000"/>
<rect x="182" y="137" width="2" height="1" fill="#000"/>
<rect x="185" y="137" width="2" height="1" fill="#000"/>
<rect x="188" y="137" width="2" height="1" fill="#000"/>
<rect x="191" y="137" width="2" height="1" fill="#000"/>
<rect x="194" y="137" width="2" height="1" fill="#000"/>
<rect x="197" y="137" width="2" height="1" fill="#000"/>
<rect x="200" y="137" width="2" height="1" fill="#000"/>
<rect x="203" y="137" width="2" height="1" fill="#000"/>
<rect x="206" y="137" width="2" height="1" fill="#000"/>
<rect x="209" y="137" width="2" height="1" fill="#000"/>
<rect x="212" y="137" width="2" height="1" fill="#000"/>
<rect x="215" y="137" width="2" height="1" fill="#000"/>
<rect x="218" y="137" width="2" height="1" fill="#000"/>
<rect x="221" y="137" width="2" height="1" fill="#000"/>
<rect x="224" y="137" width="2" height="1" fill="#000"/>
<rect x="227" y="137" width="2" height="1" fill="#000"/>
<rect x="230" y="137" width="2" height="1" fill="#000"/>
<rect x="233" y="137" width="2" height="1" fill="#000"/>
<rect x="236" y="137" width="2" height="1" fill="#000"/>
<rect x="64" y="162" width="175" height="14" fill="#000"/>
<rect x="65" y="161" width="2" height="1" fill="#000"/>
<rect x="68" y="161" width="2" height="1" fill="#000"/>
<rect x="71" y="161" width="2" height="1" fill="#000"/>
<rect x="74" y="161" width="2" height="1" fill="#000"/>
<rect x="77" y="161" width="2" height="1" fill="#000"/>
<rect x="80" y="161" width="2" height="1" fill="#000"/>
<rect x="83" y="161" width="2" height="1" fill="#000"/>
<rect x="86" y="161" width="2" height="1" fill="#000"/>
<rect x="89" y="161" width="2" height="1" fill="#000"/>
<rect x="92" y="161" width="2" height="1" fill="#000"/>
<rect x="95" y="161" width="2" height="1" fill="#000"/>
<rect x="98" y="161" width="2" height="1" fill="#000"/>
<rect x="101" y="161" width="2" height="1" fill="#000"/>
<rect x="104" y="161" width="2" height="1" fill="#000"/>
<rect x="107" y="161" width="2" height="1" fill="#000"/>
<rect x="110" y="161" width="2" height="1" fill="#000"/>
<rect x="113" y="161" width="2" height="1" fill="#000"/>
<rect x="116" y="161" width="2" height="1" fill="#000"/>
<rect x="119" y="161" width="2" height="1" fill="#000"/>
<rect x="122" y="161" width="2" height="1" fill="#000"/>
<rect x="125" y="161" width="2" height="1" fill="#000"/>
<rect x="128" y="161" width="2" height="1" fill="#000"/>
<rect x="131" y="161" width="2" height="1" fill="#000"/>
<rect x="134" y="161" width="2" height="1" fill="#000"/>
<rect x="137" y="161" width="2" height="1" fill="#000"/>
<rect x="140" y="161" width="2" height="1" fill="#000"/>
<rect x="143" y="161" width="2" height="1" fill="#000"/>
<rect x="146" y="161" width="2" height="1" fill="#000"/>
<rect x="149" y="161" width="2" height="1" fill="#000"/>
<rect x="152" y="161" width="2" height="1" fill="#000"/>
<rect x="155" y="161" width="2" height="1" fill="#000"/>
<rect x="158" y="161" width="2" height="1" fill="#000"/>
<rect x="161" y="161" width="2" height="1" fill="#000"/>
<rect x="164" y="161" width="2" height="1" fill="#000"/>
<rect x="167" y="161" width="2" height="1" fill="#000"/>
<rect x="170" y="161" width="2" height="1" fill="#000"/>
<rect x="173" y="161" width="2" height="1" fill="#000"/>
<rect x="176" y="161" width="2" height="1" fill="#000"/>
<rect x="179" y="161" width="2" height="1" fill="#000"/>
<rect x="182" y="161" width="2" height="1" fill="#000"/>
<rect x="185" y="161" width="2" height="1" fill="#000"/>
<rect x="188" y="161" width="2" height="1" fill="#000"/>
<rect x="191" y="161" width="2" height="1" fill="#000"/>
<rect x="194" y="161" width="2" height="1" fill="#000"/>
<rect x="197" y="161" width="2" height="1" fill="#000"/>
<rect x="200" y="161" width="2" height="1" fill="#000"/>
<rect x="203" y="161" width="2" height="1" fill="#000"/>
<rect x="206" y="161" width="2" height="1" fill="#000"/>
<rect x="209" y="161" width="2" height="1" fill="#000"/>
<rect x="212" y="161" width="2" height="1" fill="#000"/>
<rect x="215" y="161" width="2" height="1" fill="#000"/>
<rect x="218" y="161" width="2" height="1" fill="#000"/>
<rect x="221" y="161" width="2" height="1" fill="#000"/>
<rect x="224" y="161" width="2" height="1" fill="#000"/>
<rect x="227" y="161" width="2" height="1" fill="#000"/>
<rect x="230" y="161" width="2" height="1" fill="#000"/>
<rect x="233" y="161" width="2" height="1" fill="#000"/>
<rect x="236" y="161" width="2" height="1" fill="#000"/>
<rect x="67" y="139" width="4" height="6" fill="#fff"/>
<rect x="68" y="147" width="2" height="4" fill="#fff"/>
<rect x="67" y="163" width="4" height="6" fill="#fff"/>
<rect x="68" y="171" width="2" height="4" fill="#fff"/>
<rect x="73" y="139" width="4" height="6" fill="#fff"/>
<rect x="75" y="147" width="1" height="4" fill="#fff"/>
<rect x="73" y="163" width="4" height="6" fill="#fff"/>
<rect x="75" y="171" width="1" height="4" fill="#fff"/>
<rect x="79" y="139" width="4" height="6" fill="#fff"/>
<rect x="81" y="138" width="1" height="13" fill="#fff"/>
<rect x="79" y="163" width="4" height="6" fill="#fff"/>
<rect x="81" y="162" width="1" height="13" fill="#fff"/>
<rect x="85" y="139" width="4" height="6" fill="#fff"/>
<rect x="86" y="147" width="2" height="4" fill="#fff"/>
<rect x="85" y="163" width="4" height="6" fill="#fff"/>
<rect x="86" y="171" width="2" height="4" fill="#fff"/>
<rect x="91" y="139" width="4" height="6" fill="#fff"/>
<rect x="92" y="147" width="1" height="4" fill="#fff"/>
<rect x="91" y="163" width="4" height="6" fill="#fff"/>
<rect x="92" y="171" width="1" height="4" fill="#fff"/>
<rect x="96" y="139" width="4" height="6" fill="#fff"/>
<rect x="98" y="147" width="1" height="4" fill="#fff"/>
<rect x="96" y="163" width="4" height="6" fill="#fff"/>
<rect x="98" y="171" width="1" height="4" fill="#fff"/>
<rect x="102" y="139" width="4" height="6" fill="#fff"/>
<rect x="103" y="147" width="2" height="4" fill="#fff"/>
<rect x="102" y="163" width="4" height="6" fill="#fff"/>
<rect x="103" y="171" width="2" height="4" fill="#fff"/>
<rect x="108" y="139" width="4" height="6" fill="#fff"/>
<rect x="110" y="147" width="1" height="4" fill="#fff"/>
<rect x="108" y="163" width="4" height="6" fill="#fff"/>
<rect x="110" y="171" width="1" height="4" fill="#fff"/>
<rect x="114" y="139" width="4" height="6" fill="#fff"/>
<rect x="116" y="138" width="1" height="13" fill="#fff"/>
<rect x="114" y="163" width="4" height="6" fill="#fff"/>
<rect x="116" y="162" width="1" height="13" fill="#fff"/>
<rect x="120" y="139" width="4" height="6" fill="#fff"/>
<rect x="122" y="138" width="1" height="13" fill="#fff"/>
<rect x="120" y="163" width="4" height="6" fill="#fff"/>
<rect x="122" y="162" width="1" height="13" fill="#fff"/>
<rect x="126" y="139" width="4" height="6" fill="#fff"/>
<rect x="128" y="138" width="1" height="13" fill="#fff"/>
<rect x="126" y="163" width="4" height="6" fill="#fff"/>
<rect x="128" y="162" width="1" height="13" fill="#fff"/>
<rect x="132" y="139" width="4" height="6" fill="#fff"/>
<rect x="134" y="138" width="1" height="13" fill="#fff"/>
<rect x="132" y="163" width="4" height="6" fill="#fff"/>
<rect x="134" y="162" width="1" height="13" fill="#fff"/>
<rect x="138" y="139" width="4" height="6" fill="#fff"/>
<rect x="140" y="138" width="1" height="13" fill="#fff"/>
<rect x="138" y="163" width="4" height="6" fill="#fff"/>
<rect x="140" y="162" width="1" height="13" fill="#fff"/>
<rect x="144" y="139" width="4" height="6" fill="#fff"/>
<rect x="146" y="138" width="1" height="13" fill="#fff"/>
<rect x="144" y="163" width="4" height="6" fill="#fff"/>
<rect x="146" y="162" width="1" height="13" fill="#fff"/>
<rect x="150" y="139" width="4" height="6" fill="#fff"/>
<rect x="151" y="147" width="1" height="4" fill="#fff"/>
<rect x="150" y="163" width="4" height="6" fill="#fff"/>
<rect x="151" y="171" width="1" height="4" fill="#fff"/>
<rect x="155" y="139" width="4" height="6" fill="#fff"/>
<rect x="156" y="147" width="2" height="4" fill="#fff"/>
<rect x="155" y="163" width="4" height="6" fill="#fff"/>
<rect x="156" y="171" width="2" height="4" fill="#fff"/>
<rect x="161" y="139" width="4" height="6" fill="#fff"/>
<rect x="162" y="147" width="1" height="4" fill="#fff"/>
<rect x="161" y="163" width="4" height="6" fill="#fff"/>
<rect x="162" y="171" width="1" height="4" fill="#fff"/>
<rect x="167" y="139" width="4" height="6" fill="#fff"/>
<rect x="169" y="147" width="1" height="4" fill="#fff"/>
<rect x="167" y="163" width="4" height="6" fill="#fff"/>
<rect x="169" y="171" width="1" height="4" fill="#fff"/>
<rect x="173" y="139" width="4" height="6" fill="#fff"/>
<rect x="174" y="147" width="2" height="4" fill="#fff"/>
<rect x="173" y="163" width="4" height="6" fill="#fff"/>
<rect x="174" y="171" width="2" height="4" fill="#fff"/>
<rect x="179" y="139" width="4" height="6" fill="#fff"/>
<rect x="181" y="147" width="1" height="4" fill="#fff"/>
<rect x="179" y="163" width="4" height="6" fill="#fff"/>
<rect x="181" y="171" width="1" height="4" fill="#fff"/>
<rect x="185" y="139" width="4" height="6" fill="#fff"/>
<rect x="186" y="147" width="1" height="4" fill="#fff"/>
<rect x="185" y="163" width="4" height="6" fill="#fff"/>
<rect x="186" y="171" width="1" height="4" fill="#fff"/>
<rect x="191" y="139" width="4" height="6" fill="#fff"/>
<rect x="192" y="147" width="2" height="4" fill="#fff"/>
<rect x="191" y="163" width="4" height="6" fill="#fff"/>
<rect x="192" y="171" width="2" height="4" fill="#fff"/>
<rect x="197" y="139" width="4" height="6" fill="#fff"/>
<rect x="198" y="147" width="1" height="4" fill="#fff"/>
<rect x="197" y="163" width="4" height="6" fill="#fff"/>
<rect x="198" y="171" width="1" height="4" fill="#fff"/>
<rect x="203" y="139" width="4" height="6" fill="#fff"/>
<rect x="205" y="138" width="1" height="13" fill="#fff"/>
<rect x="203" y="163" width="4" height="6" fill="#fff"/>
<rect x="205" y="162" width="1" height="13" fill="#fff"/>
<rect x="208" y="139" width="4" height="6" fill="#fff"/>
<rect x="209" y="147" width="2" height="4" fill="#fff"/>
<rect x="208" y="163" width="4" height="6" fill="#fff"/>
<rect x="209" y="171" width="2" height="4" fill="#fff"/>
<rect x="214" y="139" width="4" height="6" fill="#fff"/>
<rect x="216" y="147" width="1" height="4" fill="#fff"/>
<rect x="214" y="163" width="4" height="6" fill="#fff"/>
<rect x="216" y="171" width="1" height="4" fill="#fff"/>
<rect x="220" y="139" width="4" height="6" fill="#fff"/>
<rect x="221" y="147" width="1" height="4" fill="#fff"/>
<rect x="220" y="163" width="4" height="6" fill="#fff"/>
<rect x="221" y="171" width="1" height="4" fill="#fff"/>
<rect x="226" y="139" width="4" height="6" fill="#fff"/>
<rect x="227" y="147" width="2" height="4" fill="#fff"/>
<rect x="226" y="163" width="4" height="6" fill="#fff"/>
<rect x="227" y="171" width="2" height="4" fill="#fff"/>
<rect x="232" y="139" width="4" height="6" fill="#fff"/>
<rect x="233" y="147" width="1" height="4" fill="#fff"/>
<rect x="232" y="163" width="4" height="6" fill="#fff"/>
<rect x="233" y="171" width="1" height="4" fill="#fff"/>
<rect x="237" y="139" width="1" height="6" fill="#fff"/>
<rect x="237" y="163" width="1" height="6" fill="#fff"/>
<rect x="64" y="153" width="30" height="8" fill="#000"/>
<rect x="65" y="154" width="28" height="6" fill="#fff"/>
<rect x="99" y="153" width="22" height="8" fill="#000"/>
<rect x="100" y="154" width="20" height="6" fill="#fff"/>
<rect x="180" y="153" width="24" height="8" fill="#000"/>
<rect x="181" y="154" width="22" height="6" fill="#fff"/>
<rect x="210" y="153" width="30" height="8" fill="#000"/>
<rect x="211" y="154" width="28" height="6" fill="#fff"/>
<rect x="121" y="150.6" width="58.5" height="15.4" rx="3.5" fill="#000" shape-rendering="geometricPrecision"/>
<rect x="123" y="152.6" width="54.5" height="11.4" rx="1.8" fill="#fff" shape-rendering="geometricPrecision"/>
<rect x="38" y="185" width="226" height="1" fill="#000"/>
<rect x="38" y="225" width="226" height="1" fill="#000"/>
<rect x="38" y="185" width="1" height="41" fill="#000"/>
<rect x="263" y="185" width="1" height="41" fill="#000"/>
<rect x="39" y="187" width="7" height="1" fill="#000"/>
<rect x="257" y="187" width="6" height="1" fill="#000"/>
<rect x="39" y="194" width="7" height="1" fill="#000"/>
<rect x="257" y="194" width="6" height="1" fill="#000"/>
<rect x="39" y="212" width="7" height="1" fill="#000"/>
<rect x="257" y="212" width="6" height="1" fill="#000"/>
<rect x="39" y="219" width="7" height="1" fill="#000"/>
<rect x="257" y="219" width="6" height="1" fill="#000"/>
<rect x="46" y="185" width="4" height="17" fill="#000"/>
<rect x="46" y="210" width="4" height="15" fill="#000"/>
<rect x="253" y="185" width="2" height="17" fill="#000"/>
<rect x="253" y="210" width="2" height="15" fill="#000"/>
<rect x="256" y="185" width="1" height="40" fill="#000"/>
<rect x="46" y="202" width="15" height="8" fill="#000"/>
<rect x="47" y="203" width="13" height="6" fill="#fff"/>
<rect x="243" y="202" width="15" height="8" fill="#000"/>
<rect x="244" y="203" width="13" height="6" fill="#fff"/>
<rect x="50" y="187" width="10" height="1" fill="#000"/>
<rect x="59" y="187" width="1" height="10" fill="#000"/>
<rect x="52" y="194" width="5" height="1" fill="#000"/>
<rect x="52" y="194" width="1" height="3" fill="#000"/>
<rect x="56" y="194" width="1" height="8" fill="#000"/>
<rect x="50" y="196" width="3" height="1" fill="#000"/>
<rect x="57" y="196" width="3" height="1" fill="#000"/>
<rect x="46" y="201" width="11" height="1" fill="#000"/>
<rect x="50" y="211" width="10" height="1" fill="#000"/>
<rect x="59" y="211" width="1" height="10" fill="#000"/>
<rect x="52" y="218" width="5" height="1" fill="#000"/>
<rect x="52" y="218" width="1" height="3" fill="#000"/>
<rect x="56" y="218" width="1" height="8" fill="#000"/>
<rect x="50" y="220" width="3" height="1" fill="#000"/>
<rect x="57" y="220" width="3" height="1" fill="#000"/>
<rect x="46" y="225" width="11" height="1" fill="#000"/>
<rect x="243" y="187" width="10" height="1" fill="#000"/>
<rect x="243" y="187" width="1" height="10" fill="#000"/>
<rect x="246" y="194" width="5" height="1" fill="#000"/>
<rect x="250" y="194" width="1" height="3" fill="#000"/>
<rect x="246" y="194" width="1" height="8" fill="#000"/>
<rect x="250" y="196" width="3" height="1" fill="#000"/>
<rect x="243" y="196" width="3" height="1" fill="#000"/>
<rect x="246" y="201" width="11" height="1" fill="#000"/>
<rect x="243" y="211" width="10" height="1" fill="#000"/>
<rect x="243" y="211" width="1" height="10" fill="#000"/>
<rect x="246" y="218" width="5" height="1" fill="#000"/>
<rect x="250" y="218" width="1" height="3" fill="#000"/>
<rect x="246" y="218" width="1" height="8" fill="#000"/>
<rect x="250" y="220" width="3" height="1" fill="#000"/>
<rect x="243" y="220" width="3" height="1" fill="#000"/>
<rect x="246" y="225" width="11" height="1" fill="#000"/>
<rect x="64" y="187" width="175" height="14" fill="#000"/>
<rect x="64" y="211" width="175" height="14" fill="#000"/>
<rect x="65" y="210" width="2" height="1" fill="#000"/>
<rect x="68" y="210" width="2" height="1" fill="#000"/>
<rect x="71" y="210" width="2" height="1" fill="#000"/>
<rect x="74" y="210" width="2" height="1" fill="#000"/>
<rect x="77" y="210" width="2" height="1" fill="#000"/>
<rect x="80" y="210" width="2" height="1" fill="#000"/>
<rect x="83" y="210" width="2" height="1" fill="#000"/>
<rect x="86" y="210" width="2" height="1" fill="#000"/>
<rect x="89" y="210" width="2" height="1" fill="#000"/>
<rect x="92" y="210" width="2" height="1" fill="#000"/>
<rect x="95" y="210" width="2" height="1" fill="#000"/>
<rect x="98" y="210" width="2" height="1" fill="#000"/>
<rect x="101" y="210" width="2" height="1" fill="#000"/>
<rect x="104" y="210" width="2" height="1" fill="#000"/>
<rect x="107" y="210" width="2" height="1" fill="#000"/>
<rect x="110" y="210" width="2" height="1" fill="#000"/>
<rect x="113" y="210" width="2" height="1" fill="#000"/>
<rect x="116" y="210" width="2" height="1" fill="#000"/>
<rect x="119" y="210" width="2" height="1" fill="#000"/>
<rect x="122" y="210" width="2" height="1" fill="#000"/>
<rect x="125" y="210" width="2" height="1" fill="#000"/>
<rect x="128" y="210" width="2" height="1" fill="#000"/>
<rect x="131" y="210" width="2" height="1" fill="#000"/>
<rect x="134" y="210" width="2" height="1" fill="#000"/>
<rect x="137" y="210" width="2" height="1" fill="#000"/>
<rect x="140" y="210" width="2" height="1" fill="#000"/>
<rect x="143" y="210" width="2" height="1" fill="#000"/>
<rect x="146" y="210" width="2" height="1" fill="#000"/>
<rect x="149" y="210" width="2" height="1" fill="#000"/>
<rect x="152" y="210" width="2" height="1" fill="#000"/>
<rect x="155" y="210" width="2" height="1" fill="#000"/>
<rect x="158" y="210" width="2" height="1" fill="#000"/>
<rect x="161" y="210" width="2" height="1" fill="#000"/>
<rect x="164" y="210" width="2" height="1" fill="#000"/>
<rect x="167" y="210" width="2" height="1" fill="#000"/>
<rect x="170" y="210" width="2" height="1" fill="#000"/>
<rect x="173" y="210" width="2" height="1" fill="#000"/>
<rect x="176" y="210" width="2" height="1" fill="#000"/>
<rect x="179" y="210" width="2" height="1" fill="#000"/>
<rect x="182" y="210" width="2" height="1" fill="#000"/>
<rect x="185" y="210" width="2" height="1" fill="#000"/>
<rect x="188" y="210" width="2" height="1" fill="#000"/>
<rect x="191" y="210" width="2" height="1" fill="#000"/>
<rect x="194" y="210" width="2" height="1" fill="#000"/>
<rect x="197" y="210" width="2" height="1" fill="#000"/>
<rect x="200" y="210" width="2" height="1" fill="#000"/>
<rect x="203" y="210" width="2" height="1" fill="#000"/>
<rect x="206" y="210" width="2" height="1" fill="#000"/>
<rect x="209" y="210" width="2" height="1" fill="#000"/>
<rect x="212" y="210" width="2" height="1" fill="#000"/>
<rect x="215" y="210" width="2" height="1" fill="#000"/>
<rect x="218" y="210" width="2" height="1" fill="#000"/>
<rect x="221" y="210" width="2" height="1" fill="#000"/>
<rect x="224" y="210" width="2" height="1" fill="#000"/>
<rect x="227" y="210" width="2" height="1" fill="#000"/>
<rect x="230" y="210" width="2" height="1" fill="#000"/>
<rect x="233" y="210" width="2" height="1" fill="#000"/>
<rect x="236" y="210" width="2" height="1" fill="#000"/>
<rect x="67" y="188" width="4" height="6" fill="#fff"/>
<rect x="68" y="196" width="2" height="4" fill="#fff"/>
<rect x="67" y="212" width="4" height="6" fill="#fff"/>
<rect x="68" y="220" width="2" height="4" fill="#fff"/>
<rect x="73" y="188" width="4" height="6" fill="#fff"/>
<rect x="75" y="196" width="1" height="4" fill="#fff"/>
<rect x="73" y="212" width="4" height="6" fill="#fff"/>
<rect x="75" y="220" width="1" height="4" fill="#fff"/>
<rect x="79" y="188" width="4" height="6" fill="#fff"/>
<rect x="81" y="187" width="1" height="13" fill="#fff"/>
<rect x="79" y="212" width="4" height="6" fill="#fff"/>
<rect x="81" y="211" width="1" height="13" fill="#fff"/>
<rect x="85" y="188" width="4" height="6" fill="#fff"/>
<rect x="86" y="196" width="2" height="4" fill="#fff"/>
<rect x="85" y="212" width="4" height="6" fill="#fff"/>
<rect x="86" y="220" width="2" height="4" fill="#fff"/>
<rect x="91" y="188" width="4" height="6" fill="#fff"/>
<rect x="92" y="196" width="1" height="4" fill="#fff"/>
<rect x="91" y="212" width="4" height="6" fill="#fff"/>
<rect x="92" y="220" width="1" height="4" fill="#fff"/>
<rect x="96" y="188" width="4" height="6" fill="#fff"/>
<rect x="98" y="196" width="1" height="4" fill="#fff"/>
<rect x="96" y="212" width="4" height="6" fill="#fff"/>
<rect x="98" y="220" width="1" height="4" fill="#fff"/>
<rect x="102" y="188" width="4" height="6" fill="#fff"/>
<rect x="103" y="196" width="2" height="4" fill="#fff"/>
<rect x="102" y="212" width="4" height="6" fill="#fff"/>
<rect x="103" y="220" width="2" height="4" fill="#fff"/>
<rect x="108" y="188" width="4" height="6" fill="#fff"/>
<rect x="110" y="196" width="1" height="4" fill="#fff"/>
<rect x="108" y="212" width="4" height="6" fill="#fff"/>
<rect x="110" y="220" width="1" height="4" fill="#fff"/>
<rect x="114" y="188" width="4" height="6" fill="#fff"/>
<rect x="116" y="187" width="1" height="13" fill="#fff"/>
<rect x="114" y="212" width="4" height="6" fill="#fff"/>
<rect x="116" y="211" width="1" height="13" fill="#fff"/>
<rect x="120" y="188" width="4" height="6" fill="#fff"/>
<rect x="122" y="187" width="1" height="13" fill="#fff"/>
<rect x="120" y="212" width="4" height="6" fill="#fff"/>
<rect x="122" y="211" width="1" height="13" fill="#fff"/>
<rect x="126" y="188" width="4" height="6" fill="#fff"/>
<rect x="128" y="187" width="1" height="13" fill="#fff"/>
<rect x="126" y="212" width="4" height="6" fill="#fff"/>
<rect x="128" y="211" width="1" height="13" fill="#fff"/>
<rect x="132" y="188" width="4" height="6" fill="#fff"/>
<rect x="134" y="187" width="1" height="13" fill="#fff"/>
<rect x="132" y="212" width="4" height="6" fill="#fff"/>
<rect x="134" y="211" width="1" height="13" fill="#fff"/>
<rect x="138" y="188" width="4" height="6" fill="#fff"/>
<rect x="140" y="187" width="1" height="13" fill="#fff"/>
<rect x="138" y="212" width="4" height="6" fill="#fff"/>
<rect x="140" y="211" width="1" height="13" fill="#fff"/>
<rect x="144" y="188" width="4" height="6" fill="#fff"/>
<rect x="146" y="187" width="1" height="13" fill="#fff"/>
<rect x="144" y="212" width="4" height="6" fill="#fff"/>
<rect x="146" y="211" width="1" height="13" fill="#fff"/>
<rect x="150" y="188" width="4" height="6" fill="#fff"/>
<rect x="151" y="196" width="1" height="4" fill="#fff"/>
<rect x="150" y="212" width="4" height="6" fill="#fff"/>
<rect x="151" y="220" width="1" height="4" fill="#fff"/>
<rect x="155" y="188" width="4" height="6" fill="#fff"/>
<rect x="156" y="196" width="2" height="4" fill="#fff"/>
<rect x="155" y="212" width="4" height="6" fill="#fff"/>
<rect x="156" y="220" width="2" height="4" fill="#fff"/>
<rect x="161" y="188" width="4" height="6" fill="#fff"/>
<rect x="162" y="196" width="1" height="4" fill="#fff"/>
<rect x="161" y="212" width="4" height="6" fill="#fff"/>
<rect x="162" y="220" width="1" height="4" fill="#fff"/>
<rect x="167" y="188" width="4" height="6" fill="#fff"/>
<rect x="169" y="196" width="1" height="4" fill="#fff"/>
<rect x="167" y="212" width="4" height="6" fill="#fff"/>
<rect x="169" y="220" width="1" height="4" fill="#fff"/>
<rect x="173" y="188" width="4" height="6" fill="#fff"/>
<rect x="174" y="196" width="2" height="4" fill="#fff"/>
<rect x="173" y="212" width="4" height="6" fill="#fff"/>
<rect x="174" y="220" width="2" height="4" fill="#fff"/>
<rect x="179" y="188" width="4" height="6" fill="#fff"/>
<rect x="181" y="196" width="1" height="4" fill="#fff"/>
<rect x="179" y="212" width="4" height="6" fill="#fff"/>
<rect x="181" y="220" width="1" height="4" fill="#fff"/>
<rect x="185" y="188" width="4" height="6" fill="#fff"/>
<rect x="186" y="196" width="1" height="4" fill="#fff"/>
<rect x="185" y="212" width="4" height="6" fill="#fff"/>
<rect x="186" y="220" width="1" height="4" fill="#fff"/>
<rect x="191" y="188" width="4" height="6" fill="#fff"/>
<rect x="192" y="196" width="2" height="4" fill="#fff"/>
<rect x="191" y="212" width="4" height="6" fill="#fff"/>
<rect x="192" y="220" width="2" height="4" fill="#fff"/>
<rect x="197" y="188" width="4" height="6" fill="#fff"/>
<rect x="198" y="196" width="1" height="4" fill="#fff"/>
<rect x="197" y="212" width="4" height="6" fill="#fff"/>
<rect x="198" y="220" width="1" height="4" fill="#fff"/>
<rect x="203" y="188" width="4" height="6" fill="#fff"/>
<rect x="205" y="187" width="1" height="13" fill="#fff"/>
<rect x="203" y="212" width="4" height="6" fill="#fff"/>
<rect x="205" y="211" width="1" height="13" fill="#fff"/>
<rect x="208" y="188" width="4" height="6" fill="#fff"/>
<rect x="209" y="196" width="2" height="4" fill="#fff"/>
<rect x="208" y="212" width="4" height="6" fill="#fff"/>
<rect x="209" y="220" width="2" height="4" fill="#fff"/>
<rect x="214" y="188" width="4" height="6" fill="#fff"/>
<rect x="216" y="196" width="1" height="4" fill="#fff"/>
<rect x="214" y="212" width="4" height="6" fill="#fff"/>
<rect x="216" y="220" width="1" height="4" fill="#fff"/>
<rect x="220" y="188" width="4" height="6" fill="#fff"/>
<rect x="221" y="196" width="1" height="4" fill="#fff"/>
<rect x="220" y="212" width="4" height="6" fill="#fff"/>
<rect x="221" y="220" width="1" height="4" fill="#fff"/>
<rect x="226" y="188" width="4" height="6" fill="#fff"/>
<rect x="227" y="196" width="2" height="4" fill="#fff"/>
<rect x="226" y="212" width="4" height="6" fill="#fff"/>
<rect x="227" y="220" width="2" height="4" fill="#fff"/>
<rect x="232" y="188" width="4" height="6" fill="#fff"/>
<rect x="233" y="196" width="1" height="4" fill="#fff"/>
<rect x="232" y="212" width="4" height="6" fill="#fff"/>
<rect x="233" y="220" width="1" height="4" fill="#fff"/>
<rect x="237" y="188" width="1" height="6" fill="#fff"/>
<rect x="237" y="212" width="1" height="6" fill="#fff"/>
<rect x="64" y="202" width="30" height="8" fill="#000"/>
<rect x="65" y="203" width="28" height="6" fill="#fff"/>
<rect x="99" y="202" width="22" height="8" fill="#000"/>
<rect x="100" y="203" width="20" height="6" fill="#fff"/>
<rect x="180" y="202" width="24" height="8" fill="#000"/>
<rect x="181" y="203" width="22" height="6" fill="#fff"/>
<rect x="210" y="202" width="30" height="8" fill="#000"/>
<rect x="211" y="203" width="28" height="6" fill="#fff"/>
<rect x="121" y="198.8" width="58.5" height="15.4" rx="3.5" fill="#000" shape-rendering="geometricPrecision"/>
<rect x="123" y="200.8" width="54.5" height="11.4" rx="1.8" fill="#fff" shape-rendering="geometricPrecision"/>
<rect x="292" y="167" width="50" height="50" rx="4.5" fill="#000" shape-rendering="auto"/>
<rect x="78" y="320" width="49" height="49" rx="4.5" fill="#000" shape-rendering="auto"/>
<rect x="162" y="320" width="50" height="49" rx="4.5" fill="#000" shape-rendering="auto"/>
<rect x="43" y="402" width="49" height="50" rx="4.5" fill="#000" shape-rendering="auto"/>
<rect x="318" y="380" width="50" height="50" rx="4.5" fill="#000" shape-rendering="auto"/>
<path d="M423 408 H479 V410 H482 V411 H485 V467 H482 V471 H481 V473 H425 V471 H419 V414 H422 V409 H423 Z" fill="#000"/>
<circle cx="474.8" cy="463.6" r="2" fill="#fff" shape-rendering="auto"/>
<rect x="419" y="416" width="3" height="1" fill="#fff"/>
<rect x="419" y="428" width="3" height="1" fill="#fff"/>
<rect x="419" y="431" width="3" height="1" fill="#fff"/>
<rect x="419" y="434" width="3" height="1" fill="#fff"/>
<rect x="419" y="445" width="3" height="1" fill="#fff"/>
<rect x="419" y="448" width="3" height="1" fill="#fff"/>
<rect x="419" y="451" width="3" height="1" fill="#fff"/>
<rect x="419" y="461" width="3" height="1" fill="#fff"/>
<rect x="419" y="464" width="3" height="1" fill="#fff"/>
<rect x="419" y="467" width="3" height="1" fill="#fff"/>
<rect x="482" y="414" width="3" height="1" fill="#fff"/>
<rect x="482" y="417" width="3" height="1" fill="#fff"/>
<rect x="482" y="420" width="3" height="1" fill="#fff"/>
<rect x="482" y="423" width="3" height="1" fill="#fff"/>
<rect x="482" y="434" width="3" height="1" fill="#fff"/>
<rect x="482" y="437" width="3" height="1" fill="#fff"/>
<rect x="482" y="440" width="3" height="1" fill="#fff"/>
<rect x="482" y="450" width="3" height="1" fill="#fff"/>
<rect x="482" y="453" width="3" height="1" fill="#fff"/>
<rect x="482" y="456" width="3" height="1" fill="#fff"/>
<rect x="433" y="408" width="1" height="2" fill="#fff"/>
<rect x="436" y="408" width="1" height="2" fill="#fff"/>
<rect x="439" y="408" width="1" height="2" fill="#fff"/>
<rect x="450" y="408" width="1" height="2" fill="#fff"/>
<rect x="453" y="408" width="1" height="2" fill="#fff"/>
<rect x="467" y="408" width="1" height="2" fill="#fff"/>
<rect x="470" y="408" width="1" height="2" fill="#fff"/>
<rect x="473" y="408" width="1" height="2" fill="#fff"/>
<rect x="427" y="471" width="1" height="2" fill="#fff"/>
<rect x="438" y="471" width="1" height="2" fill="#fff"/>
<rect x="441" y="471" width="1" height="2" fill="#fff"/>
<rect x="444" y="471" width="1" height="2" fill="#fff"/>
<rect x="455" y="471" width="1" height="2" fill="#fff"/>
<rect x="458" y="471" width="1" height="2" fill="#fff"/>
<rect x="472" y="471" width="1" height="2" fill="#fff"/>
<rect x="475" y="471" width="1" height="2" fill="#fff"/>
<rect x="84" y="236" width="88" height="41" fill="#000"/>
<rect x="89" y="249" width="78" height="14" fill="#fff"/>
<rect x="170" y="251" width="2" height="12" fill="#fff"/>
<rect x="171" y="250" width="1" height="1" fill="#fff"/>
<rect x="181" y="236" width="89" height="41" fill="#000"/>
<rect x="186" y="249" width="78" height="14" fill="#fff"/>
<rect x="267" y="250" width="3" height="13" fill="#fff"/>
<rect x="269" y="243" width="1" height="7" fill="#fff"/>
<rect x="269" y="263" width="1" height="7" fill="#fff"/>
<rect x="267" y="238" width="1" height="5" fill="#fff"/>
<rect x="544" y="374" width="126" height="43" fill="#000"/>
<rect x="547" y="376" width="3" height="1" fill="#fff"/>
<rect x="553" y="376" width="3" height="1" fill="#fff"/>
<rect x="559" y="376" width="3" height="1" fill="#fff"/>
<rect x="566" y="376" width="3" height="1" fill="#fff"/>
<rect x="572" y="376" width="3" height="1" fill="#fff"/>
<rect x="578" y="376" width="3" height="1" fill="#fff"/>
<rect x="584" y="376" width="3" height="1" fill="#fff"/>
<rect x="590" y="376" width="3" height="1" fill="#fff"/>
<rect x="597" y="376" width="3" height="1" fill="#fff"/>
<rect x="603" y="376" width="3" height="1" fill="#fff"/>
<rect x="609" y="376" width="3" height="1" fill="#fff"/>
<rect x="615" y="376" width="3" height="1" fill="#fff"/>
<rect x="621" y="376" width="3" height="1" fill="#fff"/>
<rect x="628" y="376" width="3" height="1" fill="#fff"/>
<rect x="634" y="376" width="3" height="1" fill="#fff"/>
<rect x="640" y="376" width="3" height="1" fill="#fff"/>
<rect x="646" y="376" width="3" height="1" fill="#fff"/>
<rect x="652" y="376" width="3" height="1" fill="#fff"/>
<rect x="659" y="376" width="3" height="1" fill="#fff"/>
<rect x="665" y="376" width="3" height="1" fill="#fff"/>
<rect x="593" y="388" width="28" height="15" rx="2.5" fill="#fff" shape-rendering="auto"/>
<rect x="668" y="390" width="2" height="12" fill="#fff"/>
<rect x="549" y="429" width="76" height="39" fill="#000"/>
<circle cx="613.4" cy="449.2" r="8.2" fill="#fff" shape-rendering="auto"/>
<path d="M606.8 436.3 L609 441 M619.8 436.3 L617.6 441" stroke="#fff" stroke-width="2.2" stroke-linecap="round" fill="none" shape-rendering="auto"/>
<circle cx="607.3" cy="459.6" r="1.8" fill="#fff" shape-rendering="auto"/><circle cx="619.2" cy="459.6" r="1.8" fill="#fff" shape-rendering="auto"/>
<path d="M606.8 448.3 L614 447.3 L614.5 450.8 L610 450.3 Z M612.5 448 L617 456 L614.2 457 L611.8 450.5 Z" fill="#000" shape-rendering="auto"/>
<rect x="755" y="438" width="30" height="37" fill="#000"/>
<rect x="779" y="433" width="6" height="46" fill="#000"/>
<rect x="782" y="431" width="3" height="51" fill="#000"/>
<rect x="748" y="446" width="5" height="8" fill="#000"/>
<rect x="749" y="447" width="3" height="6" fill="#fff"/>
<rect x="752" y="444" width="4" height="12" fill="#000"/>
<rect x="753" y="445" width="2" height="10" fill="#fff"/>
<rect x="754" y="447" width="2" height="1" fill="#000"/>
<rect x="754" y="449" width="2" height="1" fill="#000"/>
<rect x="754" y="451" width="2" height="1" fill="#000"/>
<rect x="754" y="453" width="2" height="1" fill="#000"/>
<rect x="748" y="460" width="5" height="8" fill="#000"/>
<rect x="749" y="461" width="3" height="6" fill="#fff"/>
<rect x="752" y="458" width="4" height="12" fill="#000"/>
<rect x="753" y="459" width="2" height="10" fill="#fff"/>
<rect x="754" y="461" width="2" height="1" fill="#000"/>
<rect x="754" y="463" width="2" height="1" fill="#000"/>
<rect x="754" y="465" width="2" height="1" fill="#000"/>
<rect x="754" y="467" width="2" height="1" fill="#000"/>
<rect x="623" y="488" width="112" height="24" fill="#000"/>
<rect x="624" y="489" width="110" height="22" fill="#fff"/>
<rect x="623" y="495" width="112" height="1" fill="#000"/>
<rect x="625" y="492" width="7" height="2" fill="#000"/>
<rect x="627" y="491" width="3" height="4" fill="#000"/>
<rect x="625" y="498" width="7" height="3" fill="#000"/>
<rect x="626" y="499" width="5" height="1" fill="#fff"/>
<rect x="629" y="502" width="7" height="7" fill="#000"/>
<rect x="630" y="503" width="5" height="5" fill="#fff"/>
<rect x="634" y="492" width="7" height="2" fill="#000"/>
<rect x="636" y="491" width="3" height="4" fill="#000"/>
<rect x="634" y="498" width="7" height="3" fill="#000"/>
<rect x="635" y="499" width="5" height="1" fill="#fff"/>
<rect x="638" y="502" width="7" height="7" fill="#000"/>
<rect x="639" y="503" width="5" height="5" fill="#fff"/>
<rect x="643" y="492" width="7" height="2" fill="#000"/>
<rect x="645" y="491" width="3" height="4" fill="#000"/>
<rect x="643" y="498" width="7" height="3" fill="#000"/>
<rect x="644" y="499" width="5" height="1" fill="#fff"/>
<rect x="647" y="502" width="7" height="7" fill="#000"/>
<rect x="648" y="503" width="5" height="5" fill="#fff"/>
<rect x="652" y="492" width="7" height="2" fill="#000"/>
<rect x="654" y="491" width="3" height="4" fill="#000"/>
<rect x="652" y="498" width="7" height="3" fill="#000"/>
<rect x="653" y="499" width="5" height="1" fill="#fff"/>
<rect x="657" y="502" width="7" height="7" fill="#000"/>
<rect x="658" y="503" width="5" height="5" fill="#fff"/>
<rect x="662" y="492" width="7" height="2" fill="#000"/>
<rect x="664" y="491" width="3" height="4" fill="#000"/>
<rect x="662" y="498" width="7" height="3" fill="#000"/>
<rect x="663" y="499" width="5" height="1" fill="#fff"/>
<rect x="666" y="502" width="7" height="7" fill="#000"/>
<rect x="667" y="503" width="5" height="5" fill="#fff"/>
<rect x="671" y="492" width="7" height="2" fill="#000"/>
<rect x="673" y="491" width="3" height="4" fill="#000"/>
<rect x="671" y="498" width="7" height="3" fill="#000"/>
<rect x="672" y="499" width="5" height="1" fill="#fff"/>
<rect x="675" y="502" width="7" height="7" fill="#000"/>
<rect x="676" y="503" width="5" height="5" fill="#fff"/>
<rect x="680" y="492" width="7" height="2" fill="#000"/>
<rect x="682" y="491" width="3" height="4" fill="#000"/>
<rect x="680" y="498" width="7" height="3" fill="#000"/>
<rect x="681" y="499" width="5" height="1" fill="#fff"/>
<rect x="684" y="502" width="7" height="7" fill="#000"/>
<rect x="685" y="503" width="5" height="5" fill="#fff"/>
<rect x="689" y="492" width="7" height="2" fill="#000"/>
<rect x="691" y="491" width="3" height="4" fill="#000"/>
<rect x="689" y="498" width="7" height="3" fill="#000"/>
<rect x="690" y="499" width="5" height="1" fill="#fff"/>
<rect x="693" y="502" width="7" height="7" fill="#000"/>
<rect x="694" y="503" width="5" height="5" fill="#fff"/>
<rect x="698" y="492" width="7" height="2" fill="#000"/>
<rect x="700" y="491" width="3" height="4" fill="#000"/>
<rect x="698" y="498" width="7" height="3" fill="#000"/>
<rect x="699" y="499" width="5" height="1" fill="#fff"/>
<rect x="703" y="502" width="7" height="7" fill="#000"/>
<rect x="704" y="503" width="5" height="5" fill="#fff"/>
<rect x="708" y="492" width="7" height="2" fill="#000"/>
<rect x="710" y="491" width="3" height="4" fill="#000"/>
<rect x="708" y="498" width="7" height="3" fill="#000"/>
<rect x="709" y="499" width="5" height="1" fill="#fff"/>
<rect x="712" y="502" width="7" height="7" fill="#000"/>
<rect x="713" y="503" width="5" height="5" fill="#fff"/>
<rect x="717" y="492" width="7" height="2" fill="#000"/>
<rect x="719" y="491" width="3" height="4" fill="#000"/>
<rect x="717" y="498" width="7" height="3" fill="#000"/>
<rect x="718" y="499" width="5" height="1" fill="#fff"/>
<rect x="721" y="502" width="7" height="7" fill="#000"/>
<rect x="722" y="503" width="5" height="5" fill="#fff"/>
<rect x="726" y="492" width="7" height="2" fill="#000"/>
<rect x="728" y="491" width="3" height="4" fill="#000"/>
<rect x="726" y="498" width="7" height="3" fill="#000"/>
<rect x="727" y="499" width="5" height="1" fill="#fff"/>
<rect x="623" y="502" width="5" height="1" fill="#000"/>
<rect x="627" y="502" width="1" height="7" fill="#000"/>
<rect x="623" y="508" width="5" height="1" fill="#000"/>
<rect x="730" y="502" width="5" height="1" fill="#000"/>
<rect x="730" y="502" width="1" height="7" fill="#000"/>
<rect x="730" y="508" width="5" height="1" fill="#000"/>
<defs><pattern id="dots" x="0" y="0" width="2" height="2" patternUnits="userSpaceOnUse"><rect x="0" y="0" width="1" height="1" fill="#000"/></pattern></defs>
<rect x="27" y="470" width="1" height="6" fill="#000"/>
<rect x="41" y="470" width="1" height="6" fill="#000"/>
<rect x="23" y="476" width="22" height="2" fill="#000"/>
<path d="M24 478 H44 V501 L43 503 H26 L24 501 Z" fill="#000"/>
<path d="M25 478 H43 V501 L42 502 H27 L25 501 Z" fill="#fff"/>
<path d="M25 478 H43 V501 L42 502 H27 L25 501 Z" fill="url(#dots)"/>
<rect x="122" y="380" width="60" height="61" fill="#000"/>
<rect x="124" y="382" width="56" height="57" fill="#fff"/>
<rect x="122" y="380" width="8" height="8" fill="#000"/>
<rect x="122" y="433" width="8" height="8" fill="#000"/>
<rect x="174" y="433" width="8" height="8" fill="#000"/>
<path d="M177 379 L183 379 L183 386 Z" fill="#fff" shape-rendering="auto"/>
<path d="M176.5 380.5 L181.7 385.7" stroke="#000" stroke-width="1.6" shape-rendering="auto"/>
<circle cx="177.4" cy="384.6" r="2.7" fill="#fff" stroke="#000" stroke-width="1" shape-rendering="auto"/>
<rect x="140" y="382" width="1" height="5" fill="#000"/>
<rect x="140" y="434" width="1" height="5" fill="#000"/>
<rect x="160" y="382" width="1" height="5" fill="#000"/>
<rect x="160" y="434" width="1" height="5" fill="#000"/>
<rect x="170" y="382" width="1" height="5" fill="#000"/>
<rect x="170" y="434" width="1" height="5" fill="#000"/>
<rect x="124" y="399" width="4" height="1" fill="#000"/>
<rect x="124" y="408" width="4" height="1" fill="#000"/>
<rect x="124" y="417" width="4" height="1" fill="#000"/>
<rect x="175" y="401" width="5" height="1" fill="#000"/>
<rect x="175" y="410" width="5" height="1" fill="#000"/>
<rect x="175" y="421" width="5" height="1" fill="#000"/>
<rect x="175" y="430" width="5" height="1" fill="#000"/>
<rect x="136" y="402" width="31" height="16" rx="3" fill="#fff" stroke="#000" stroke-width="2" shape-rendering="auto"/>
<rect x="235" y="380" width="1" height="54" fill="#000"/>
<rect x="227" y="388" width="55" height="2" fill="#000"/>
<rect x="238" y="380" width="1" height="54" fill="#000"/>
<rect x="227" y="391" width="55" height="2" fill="#000"/>
<rect x="241" y="380" width="1" height="54" fill="#000"/>
<rect x="227" y="394" width="55" height="2" fill="#000"/>
<rect x="244" y="380" width="1" height="54" fill="#000"/>
<rect x="227" y="397" width="55" height="2" fill="#000"/>
<rect x="247" y="380" width="1" height="54" fill="#000"/>
<rect x="227" y="400" width="55" height="2" fill="#000"/>
<rect x="250" y="380" width="1" height="54" fill="#000"/>
<rect x="227" y="403" width="55" height="2" fill="#000"/>
<rect x="253" y="380" width="1" height="54" fill="#000"/>
<rect x="227" y="406" width="55" height="2" fill="#000"/>
<rect x="255" y="380" width="1" height="54" fill="#000"/>
<rect x="227" y="408" width="55" height="2" fill="#000"/>
<rect x="258" y="380" width="1" height="54" fill="#000"/>
<rect x="227" y="411" width="55" height="2" fill="#000"/>
<rect x="261" y="380" width="1" height="54" fill="#000"/>
<rect x="227" y="414" width="55" height="2" fill="#000"/>
<rect x="264" y="380" width="1" height="54" fill="#000"/>
<rect x="227" y="417" width="55" height="2" fill="#000"/>
<rect x="267" y="380" width="1" height="54" fill="#000"/>
<rect x="227" y="420" width="55" height="2" fill="#000"/>
<rect x="270" y="380" width="1" height="54" fill="#000"/>
<rect x="227" y="423" width="55" height="2" fill="#000"/>
<rect x="273" y="380" width="1" height="54" fill="#000"/>
<rect x="227" y="426" width="55" height="2" fill="#000"/>
<rect x="232" y="385" width="45" height="44" fill="#000"/>
<path d="M229.5 382.5 L235 388 M279.5 382.5 L274 388 M229.5 431.5 L235 426 M279.5 431.5 L274 426" stroke="#000" stroke-width="4.5" stroke-linecap="round" shape-rendering="auto"/>
<rect x="241" y="400" width="28" height="14" fill="#fff"/>
<circle cx="238" cy="422" r="2.5" fill="#fff" shape-rendering="auto"/>
<rect x="137" y="479" width="51" height="29" fill="#000"/>
<rect x="145" y="486" width="35" height="14" fill="#fff"/>
<circle cx="141.8" cy="483.8" r="2.7" fill="#fff" shape-rendering="auto"/>
<circle cx="182.8" cy="483.8" r="2.7" fill="#fff" shape-rendering="auto"/>
<circle cx="141.8" cy="503.6" r="2.7" fill="#fff" shape-rendering="auto"/>
<circle cx="183" cy="503.6" r="2.7" fill="#fff" shape-rendering="auto"/>
<circle cx="188.5" cy="493" r="3.2" fill="#fff" shape-rendering="auto"/>
<rect x="141" y="490" width="1" height="7" fill="#fff"/>
<rect x="308" y="121" width="68" height="20" fill="#000"/>
<rect x="309" y="122" width="66" height="18" fill="#fff"/>
<rect x="313" y="126" width="6" height="11" fill="#000"/>
<rect x="320" y="126" width="6" height="11" fill="#000"/>
<rect x="328" y="126" width="6" height="11" fill="#000"/>
<rect x="335" y="126" width="6" height="11" fill="#000"/>
<rect x="342" y="126" width="6" height="11" fill="#000"/>
<rect x="350" y="126" width="6" height="11" fill="#000"/>
<rect x="357" y="126" width="6" height="11" fill="#000"/>
<rect x="364" y="126" width="6" height="11" fill="#000"/>
<rect x="365" y="127" width="4" height="9" fill="#fff"/>
<path d="M369.5 136 L375 140.5 M371 136.5 H374.5 V139.5" stroke="#000" stroke-width="1" fill="none" shape-rendering="auto"/>
<rect x="703" y="365" width="20" height="7" fill="#000"/>
<rect x="704" y="370" width="18" height="1" fill="#fff"/>
<rect x="704" y="366" width="1" height="5" fill="#fff"/>
<rect x="710" y="366" width="1" height="5" fill="#fff"/>
<rect x="716" y="366" width="1" height="5" fill="#fff"/>
<rect x="718" y="367" width="2" height="2" fill="#fff"/>
<rect x="721" y="366" width="1" height="5" fill="#fff"/>
<rect x="738" y="359" width="26" height="19" rx="3.2" fill="#000" shape-rendering="geometricPrecision"/>
<path d="M741 364.5 L730.8 368.5 L741 372.5 Z" fill="#fff" stroke="#000" stroke-width="1.5" stroke-linejoin="miter" stroke-miterlimit="10" shape-rendering="auto"/>
<path d="M724.5 368.5 L732.8 368.5" stroke="#000" stroke-width="3" shape-rendering="auto"/>
<rect x="740" y="361" width="22" height="15" rx="1.6" fill="#fff" shape-rendering="geometricPrecision"/>
<rect x="28" y="242" width="31" height="7" fill="#000"/>
<rect x="29" y="243" width="29" height="1" fill="#fff"/>
<rect x="34" y="243" width="1" height="5" fill="#fff"/>
<rect x="40" y="243" width="1" height="5" fill="#fff"/>
<rect x="46" y="243" width="1" height="5" fill="#fff"/>
<rect x="52" y="243" width="1" height="5" fill="#fff"/>
<rect x="54" y="245" width="2" height="2" fill="#fff"/>
<rect x="57" y="243" width="1" height="5" fill="#fff"/>
<rect x="28" y="250" width="19" height="7" fill="#000"/>
<rect x="34" y="251" width="1" height="5" fill="#fff"/>
<rect x="39" y="251" width="1" height="5" fill="#fff"/>
<rect x="40" y="251" width="1" height="5" fill="#fff"/>
<rect x="42" y="252" width="2" height="3" fill="#fff"/>
<rect x="45" y="251" width="1" height="5" fill="#fff"/>
<rect x="48" y="250" width="14" height="7" fill="#000"/>
<rect x="49" y="251" width="1" height="5" fill="#fff"/>
<rect x="55" y="251" width="1" height="5" fill="#fff"/>
<rect x="60" y="251" width="1" height="5" fill="#fff"/>
<rect x="28" y="258" width="25" height="6" fill="#000"/>
<rect x="34" y="259" width="1" height="4" fill="#fff"/>
<rect x="40" y="259" width="1" height="4" fill="#fff"/>
<rect x="45" y="259" width="1" height="4" fill="#fff"/>
<rect x="47" y="260" width="3" height="2" fill="#fff"/>
<rect x="45" y="261" width="7" height="3" fill="#fff"/>
<rect x="46" y="262" width="2" height="1" fill="#000"/>
<rect x="50" y="261" width="1" height="3" fill="#000"/>
<rect x="53" y="258" width="16" height="7" fill="#000"/>
<rect x="54" y="259" width="1" height="5" fill="#fff"/>
<rect x="61" y="259" width="1" height="5" fill="#fff"/>
<rect x="66" y="259" width="1" height="5" fill="#fff"/>
<rect x="53" y="264" width="18" height="1" fill="#000"/>
<rect x="43" y="205" width="32" height="18" rx="3.2" fill="#000" shape-rendering="geometricPrecision"/>
<path d="M50.5 220 L47.2 234.3 L59 220 Z" fill="#fff" stroke="#000" stroke-width="1.5" stroke-linejoin="miter" stroke-miterlimit="10" shape-rendering="auto"/>
<path d="M42.5 243 L48.6 231.5" stroke="#000" stroke-width="2.6" shape-rendering="auto"/>
<rect x="45" y="207" width="28" height="14" rx="1.6" fill="#fff" shape-rendering="geometricPrecision"/>
<rect x="8" y="222" width="33" height="17" rx="3.2" fill="#000" shape-rendering="geometricPrecision"/>
<path d="M9 236 L22.7 246.8 L17.5 236 Z" fill="#fff" stroke="#000" stroke-width="1.5" stroke-linejoin="miter" stroke-miterlimit="10" shape-rendering="auto"/>
<path d="M28.5 253.5 L20.9 244.8" stroke="#000" stroke-width="2.6" shape-rendering="auto"/>
<rect x="10" y="224" width="29" height="13" rx="1.6" fill="#fff" shape-rendering="geometricPrecision"/>
<rect x="71" y="229" width="31" height="16" rx="3.2" fill="#000" shape-rendering="geometricPrecision"/>
<path d="M72 240 L68.0 248.4 L76 243.5 Z" fill="#fff" stroke="#000" stroke-width="1.5" stroke-linejoin="miter" stroke-miterlimit="10" shape-rendering="auto"/>
<path d="M62.5 254.5 L69.4 246.8" stroke="#000" stroke-width="2.6" shape-rendering="auto"/>
<rect x="73" y="231" width="27" height="12" rx="1.6" fill="#fff" shape-rendering="geometricPrecision"/>
<rect x="25" y="281" width="34" height="19" rx="3.2" fill="#000" shape-rendering="geometricPrecision"/>
<path d="M38 284 L41.2 271.9 L45 284 Z" fill="#fff" stroke="#000" stroke-width="1.5" stroke-linejoin="miter" stroke-miterlimit="10" shape-rendering="auto"/>
<path d="M41 264.5 L41.2 274.2" stroke="#000" stroke-width="2.6" shape-rendering="auto"/>
<rect x="27" y="283" width="30" height="15" rx="1.6" fill="#fff" shape-rendering="geometricPrecision"/>
<rect x="67" y="272" width="33" height="19" rx="3.2" fill="#000" shape-rendering="geometricPrecision"/>
<path d="M68.5 276.5 L65.7 269.5 L74 273.5 Z" fill="#fff" stroke="#000" stroke-width="1.5" stroke-linejoin="miter" stroke-miterlimit="10" shape-rendering="auto"/>
<path d="M60.5 264.5 L67.0 270.8" stroke="#000" stroke-width="2.6" shape-rendering="auto"/>
<rect x="69" y="274" width="29" height="15" rx="1.6" fill="#fff" shape-rendering="geometricPrecision"/>
<rect x="200" y="289" width="19" height="7" fill="#000"/>
<rect x="205" y="290" width="1" height="5" fill="#fff"/>
<rect x="206" y="290" width="1" height="5" fill="#fff"/>
<rect x="211" y="290" width="1" height="5" fill="#fff"/>
<rect x="212" y="290" width="1" height="5" fill="#fff"/>
<rect x="214" y="291" width="2" height="3" fill="#fff"/>
<rect x="217" y="290" width="1" height="5" fill="#fff"/>
<rect x="221" y="289" width="19" height="7" fill="#000"/>
<rect x="227" y="290" width="1" height="5" fill="#fff"/>
<rect x="233" y="290" width="1" height="5" fill="#fff"/>
<rect x="235" y="291" width="2" height="3" fill="#fff"/>
<rect x="238" y="290" width="1" height="5" fill="#fff"/>
<rect x="158" y="283" width="26" height="19" rx="3.2" fill="#000" shape-rendering="geometricPrecision"/>
<path d="M181 288.5 L192.5 292.6 L181 297 Z" fill="#fff" stroke="#000" stroke-width="1.5" stroke-linejoin="miter" stroke-miterlimit="10" shape-rendering="auto"/>
<path d="M199.5 292.5 L190.2 292.6" stroke="#000" stroke-width="3" shape-rendering="auto"/>
<rect x="160" y="285" width="22" height="15" rx="1.6" fill="#fff" shape-rendering="geometricPrecision"/>
<rect x="256" y="283" width="25" height="19" rx="3.2" fill="#000" shape-rendering="geometricPrecision"/>
<path d="M259 288.5 L247.5 292.6 L259 297 Z" fill="#fff" stroke="#000" stroke-width="1.5" stroke-linejoin="miter" stroke-miterlimit="10" shape-rendering="auto"/>
<path d="M240.5 292.5 L249.8 292.6" stroke="#000" stroke-width="3" shape-rendering="auto"/>
<rect x="258" y="285" width="21" height="15" rx="1.6" fill="#fff" shape-rendering="geometricPrecision"/>
<rect x="326" y="84" width="34" height="19" rx="3.2" fill="#000" shape-rendering="geometricPrecision"/>
<path d="M339 100 L342.0 109.9 L345 100 Z" fill="#fff" stroke="#000" stroke-width="1.5" stroke-linejoin="miter" stroke-miterlimit="10" shape-rendering="auto"/>
<path d="M342 119 L342.0 107.6" stroke="#000" stroke-width="2.6" shape-rendering="auto"/>
<rect x="328" y="86" width="30" height="15" rx="1.6" fill="#fff" shape-rendering="geometricPrecision"/>
<rect x="362" y="147" width="13" height="7" fill="#000"/>
<rect x="363" y="148" width="11" height="1" fill="#fff"/>
<rect x="363" y="149" width="1" height="4" fill="#fff"/>
<rect x="368" y="149" width="1" height="4" fill="#fff"/>
<rect x="310" y="142" width="36" height="18" rx="3.2" fill="#000" shape-rendering="geometricPrecision"/>
<path d="M343 146.5 L353.3 150.6 L343 155 Z" fill="#fff" stroke="#000" stroke-width="1.5" stroke-linejoin="miter" stroke-miterlimit="10" shape-rendering="auto"/>
<path d="M361 150.5 L351.1 150.6" stroke="#000" stroke-width="3" shape-rendering="auto"/>
<rect x="312" y="144" width="32" height="14" rx="1.6" fill="#fff" shape-rendering="geometricPrecision"/>
<rect x="356" y="188" width="19" height="7" fill="#000"/>
<rect x="357" y="189" width="1" height="5" fill="#fff"/>
<rect x="362" y="189" width="1" height="5" fill="#fff"/>
<rect x="368" y="189" width="1" height="5" fill="#fff"/>
<rect x="370" y="190" width="3" height="3" fill="#fff"/>
<rect x="356" y="198" width="19" height="7" fill="#000"/>
<rect x="357" y="203" width="17" height="1" fill="#fff"/>
<rect x="357" y="199" width="1" height="5" fill="#fff"/>
<rect x="362" y="199" width="1" height="5" fill="#fff"/>
<rect x="368" y="199" width="1" height="5" fill="#fff"/>
<rect x="370" y="200" width="3" height="2" fill="#fff"/>
<rect x="356" y="207" width="19" height="7" fill="#000"/>
<rect x="357" y="208" width="1" height="5" fill="#fff"/>
<rect x="362" y="208" width="1" height="5" fill="#fff"/>
<rect x="368" y="208" width="1" height="5" fill="#fff"/>
<rect x="370" y="209" width="3" height="3" fill="#fff"/>
<rect x="384" y="167" width="24" height="19" rx="3.2" fill="#000" shape-rendering="geometricPrecision"/>
<path d="M386 180 L382.0 187.5 L390 184 Z" fill="#fff" stroke="#000" stroke-width="1.5" stroke-linejoin="miter" stroke-miterlimit="10" shape-rendering="auto"/>
<path d="M376.5 192.5 L383.4 186.2" stroke="#000" stroke-width="2.6" shape-rendering="auto"/>
<rect x="386" y="169" width="20" height="15" rx="1.6" fill="#fff" shape-rendering="geometricPrecision"/>
<rect x="391" y="192" width="25" height="18" rx="3.2" fill="#000" shape-rendering="geometricPrecision"/>
<path d="M394 197 L384.0 201.3 L394 205 Z" fill="#fff" stroke="#000" stroke-width="1.5" stroke-linejoin="miter" stroke-miterlimit="10" shape-rendering="auto"/>
<path d="M376.5 201.5 L386.1 201.2" stroke="#000" stroke-width="2.6" shape-rendering="auto"/>
<rect x="393" y="194" width="21" height="14" rx="1.6" fill="#fff" shape-rendering="geometricPrecision"/>
<rect x="383" y="217" width="25" height="18" rx="3.2" fill="#000" shape-rendering="geometricPrecision"/>
<path d="M385.5 223 L381.9 215.0 L390 219 Z" fill="#fff" stroke="#000" stroke-width="1.5" stroke-linejoin="miter" stroke-miterlimit="10" shape-rendering="auto"/>
<path d="M376.5 209.5 L383.2 216.4" stroke="#000" stroke-width="2.6" shape-rendering="auto"/>
<rect x="385" y="219" width="21" height="14" rx="1.6" fill="#fff" shape-rendering="geometricPrecision"/>
<rect x="306" y="248" width="19" height="7" fill="#000"/>
<rect x="307" y="253" width="17" height="1" fill="#fff"/>
<rect x="307" y="249" width="1" height="5" fill="#fff"/>
<rect x="312" y="249" width="1" height="5" fill="#fff"/>
<rect x="318" y="249" width="1" height="5" fill="#fff"/>
<rect x="320" y="250" width="3" height="2" fill="#fff"/>
<rect x="338" y="248" width="19" height="7" fill="#000"/>
<rect x="339" y="253" width="17" height="1" fill="#fff"/>
<rect x="339" y="249" width="1" height="5" fill="#fff"/>
<rect x="344" y="249" width="1" height="5" fill="#fff"/>
<rect x="350" y="249" width="1" height="5" fill="#fff"/>
<rect x="352" y="250" width="3" height="2" fill="#fff"/>
<rect x="284" y="222" width="25" height="19" rx="3.2" fill="#000" shape-rendering="geometricPrecision"/>
<path d="M303 238.5 L309.3 241.5 L306.5 235 Z" fill="#fff" stroke="#000" stroke-width="1.5" stroke-linejoin="miter" stroke-miterlimit="10" shape-rendering="auto"/>
<path d="M315.5 248 L308.0 240.1" stroke="#000" stroke-width="3" shape-rendering="auto"/>
<rect x="286" y="224" width="21" height="15" rx="1.6" fill="#fff" shape-rendering="geometricPrecision"/>
<rect x="354" y="222" width="24" height="19" rx="3.2" fill="#000" shape-rendering="geometricPrecision"/>
<path d="M356.5 235 L351.1 243.7 L360.5 238.5 Z" fill="#fff" stroke="#000" stroke-width="1.5" stroke-linejoin="miter" stroke-miterlimit="10" shape-rendering="auto"/>
<path d="M346.5 248 L352.5 242.4" stroke="#000" stroke-width="2.6" shape-rendering="auto"/>
<rect x="356" y="224" width="20" height="15" rx="1.6" fill="#fff" shape-rendering="geometricPrecision"/>
<rect x="30" y="383" width="19" height="7" fill="#000"/>
<rect x="31" y="388" width="17" height="1" fill="#fff"/>
<rect x="36" y="384" width="1" height="5" fill="#fff"/>
<rect x="41" y="384" width="1" height="5" fill="#fff"/>
<rect x="47" y="384" width="1" height="5" fill="#fff"/>
<rect x="44" y="385" width="2" height="2" fill="#fff"/>
<rect x="23" y="348" width="34" height="19" rx="3.2" fill="#000" shape-rendering="geometricPrecision"/>
<path d="M35.5 364 L39.5 376.1 L43.5 364 Z" fill="#fff" stroke="#000" stroke-width="1.5" stroke-linejoin="miter" stroke-miterlimit="10" shape-rendering="auto"/>
<path d="M39.5 383.5 L39.5 373.8" stroke="#000" stroke-width="2.6" shape-rendering="auto"/>
<rect x="25" y="350" width="30" height="15" rx="1.6" fill="#fff" shape-rendering="geometricPrecision"/>
<rect x="161" y="458" width="20" height="6" fill="#000"/>
<rect x="162" y="459" width="1" height="4" fill="#fff"/>
<rect x="167" y="459" width="1" height="4" fill="#fff"/>
<rect x="168" y="459" width="1" height="4" fill="#fff"/>
<rect x="173" y="459" width="1" height="4" fill="#fff"/>
<rect x="175" y="460" width="3" height="2" fill="#fff"/>
<rect x="179" y="459" width="1" height="4" fill="#fff"/>
<rect x="176" y="460" width="1" height="2" fill="#000"/>
<rect x="111" y="452" width="35" height="18" rx="3.2" fill="#000" shape-rendering="geometricPrecision"/>
<path d="M143 456.5 L154.2 461.0 L143 465.5 Z" fill="#fff" stroke="#000" stroke-width="1.5" stroke-linejoin="miter" stroke-miterlimit="10" shape-rendering="auto"/>
<path d="M161 461 L152.0 461.0" stroke="#000" stroke-width="3" shape-rendering="auto"/>
<rect x="113" y="454" width="31" height="14" rx="1.6" fill="#fff" shape-rendering="geometricPrecision"/>
<rect x="192" y="489" width="14" height="6" fill="#000"/>
<rect x="193" y="490" width="1" height="4" fill="#fff"/>
<rect x="198" y="490" width="1" height="4" fill="#fff"/>
<rect x="199" y="490" width="1" height="4" fill="#fff"/>
<rect x="204" y="490" width="1" height="4" fill="#fff"/>
<rect x="206" y="463" width="33" height="17" rx="3.2" fill="#000" shape-rendering="geometricPrecision"/>
<path d="M207.5 475.5 L206.0 480.7 L210.5 478.5 Z" fill="#fff" stroke="#000" stroke-width="1.5" stroke-linejoin="miter" stroke-miterlimit="10" shape-rendering="auto"/>
<path d="M199.5 488.5 L207.1 479.3" stroke="#000" stroke-width="3.4" shape-rendering="auto"/>
<rect x="208" y="465" width="29" height="13" rx="1.6" fill="#fff" shape-rendering="geometricPrecision"/>
<g filter="url(#th)">
<text x="572" y="442.5" font-size="12.5" font-weight="bold" fill="#fff" textLength="44.5" lengthAdjust="spacingAndGlyphs" stroke="#fff" stroke-width="0.45" transform="rotate(180 587 448.5)">DALLAS</text>
<text x="572" y="453.3" font-size="11" font-weight="bold" fill="#fff" textLength="39.5" lengthAdjust="spacingAndGlyphs" stroke="#fff" stroke-width="0.45" transform="rotate(180 587 448.5)">DS1287</text>
<text x="572" y="463.3" font-size="10.3" font-weight="bold" fill="#fff" textLength="52" lengthAdjust="spacingAndGlyphs" stroke="#fff" stroke-width="0.45" transform="rotate(180 587 448.5)">REAL TIME</text>
<text transform="scale(0.78,1)" y="371.8" font-size="14" fill="#000" x="951.65 962.26">J2</text>
<text transform="scale(0.78,1)" y="217.6" font-size="14" fill="#000" x="61.01 69.93 79.01">J16</text>
<text transform="scale(0.78,1)" y="233.8" font-size="14" fill="#000" x="14.54 24.84 34.18">J12</text>
<text transform="scale(0.78,1)" y="241.8" font-size="12.5" fill="#000" x="96.98 107.63 115.92">J13</text>
<text transform="scale(0.78,1)" y="293.8" font-size="14" fill="#000" x="39.06 49.07 58.07">J14</text>
<text transform="scale(0.78,1)" y="284.8" font-size="14" fill="#000" x="93.06 101.57 111.89">J15</text>
<text transform="scale(0.78,1)" y="296.3" font-size="14" fill="#000" x="210.37 220.47">J9</text>
<text transform="scale(0.78,1)" y="296.3" font-size="14" fill="#000" x="334.28 343.86">J8</text>
<text transform="scale(0.76,1)" y="96.7" font-size="14" fill="#000" x="434.81 445.29 459.88">SW1</text>
<text transform="scale(0.78,1)" y="153.8" font-size="14" fill="#000" x="405.66 414.97 424.43">J17</text>
<text transform="scale(0.78,1)" y="180" font-size="14" fill="#000" x="496.91 505.71">J7</text>
<text transform="scale(0.78,1)" y="204.8" font-size="14" fill="#000" x="508.54 516.89">J6</text>
<text transform="scale(0.78,1)" y="230" font-size="14" fill="#000" x="498.19 507.08">J5</text>
<text transform="scale(0.78,1)" y="235.8" font-size="14" fill="#000" x="370.12 379.16">J4</text>
<text transform="scale(0.78,1)" y="235.8" font-size="14" fill="#000" x="459.73 469.48">J3</text>
<text transform="scale(0.78,1)" y="362" font-size="14" fill="#000" x="38.06 48.17 56.95">J11</text>
<text transform="scale(0.78,1)" y="464.7" font-size="14" fill="#000" x="150.76 160.35 169.10">J1<tspan font-size="12">0</tspan></text>
<text transform="scale(0.78,1)" y="474.8" font-size="14" fill="#000" x="269.99 279.84 289.22">J18</text>
<text transform="scale(0.77,1)" y="413.8" font-size="14" fill="#000" x="179.20 191.98 203.94">NPU</text>
<text transform="scale(0.77,1)" y="411" font-size="14" fill="#000" x="313.04 326.29 338.71">CPU</text>
<text transform="scale(0.77,1)" y="399.3" font-size="14" fill="#000" x="771.91 783.57 795.03">KBD</text>
<text transform="scale(0.77,1)" y="497.9" font-size="14" fill="#000" x="188.58 202.02 213.69 225.99">OSC1</text>
<text transform="scale(0.73,1)" y="259.8" font-size="14" fill="#000" x="123.04 134.63 141.41 154.17 166.27 172.35 184.20 196.26 208.98">BIOS/EVEN</text>
<text transform="scale(0.73,1)" y="259.8" font-size="14" fill="#000" x="262.83 274.77 280.24 293.45 305.59 312.37 325.36 338.44">BIOS/ODD</text>
<text transform="scale(0.77,1)" y="65" font-size="14" fill="#000" x="160.71 171.47 181.63 194.12 203.21 214.34">BANK <tspan font-size="11">0</tspan></text>
<text transform="scale(0.77,1)" y="113.8" font-size="14" fill="#000" x="162.01 172.77 182.93 195.42 204.51 214.50">BANK 1</text>
<text transform="scale(0.77,1)" y="162" font-size="14" fill="#000" x="161.23 171.99 182.15 194.64 203.73 214.03">BANK 2</text>
<text transform="scale(0.77,1)" y="209.8" font-size="14" fill="#000" x="161.23 171.99 182.15 194.64 203.73 214.07">BANK 3</text>
<text transform="scale(0.84,1)" y="64" font-size="12.5" fill="#000" x="711.46 722.57 733.15 741.22 749.52 757.25">MH<tspan font-size="10.3">0400</tspan></text>
</g>
</svg>
</body></html>
